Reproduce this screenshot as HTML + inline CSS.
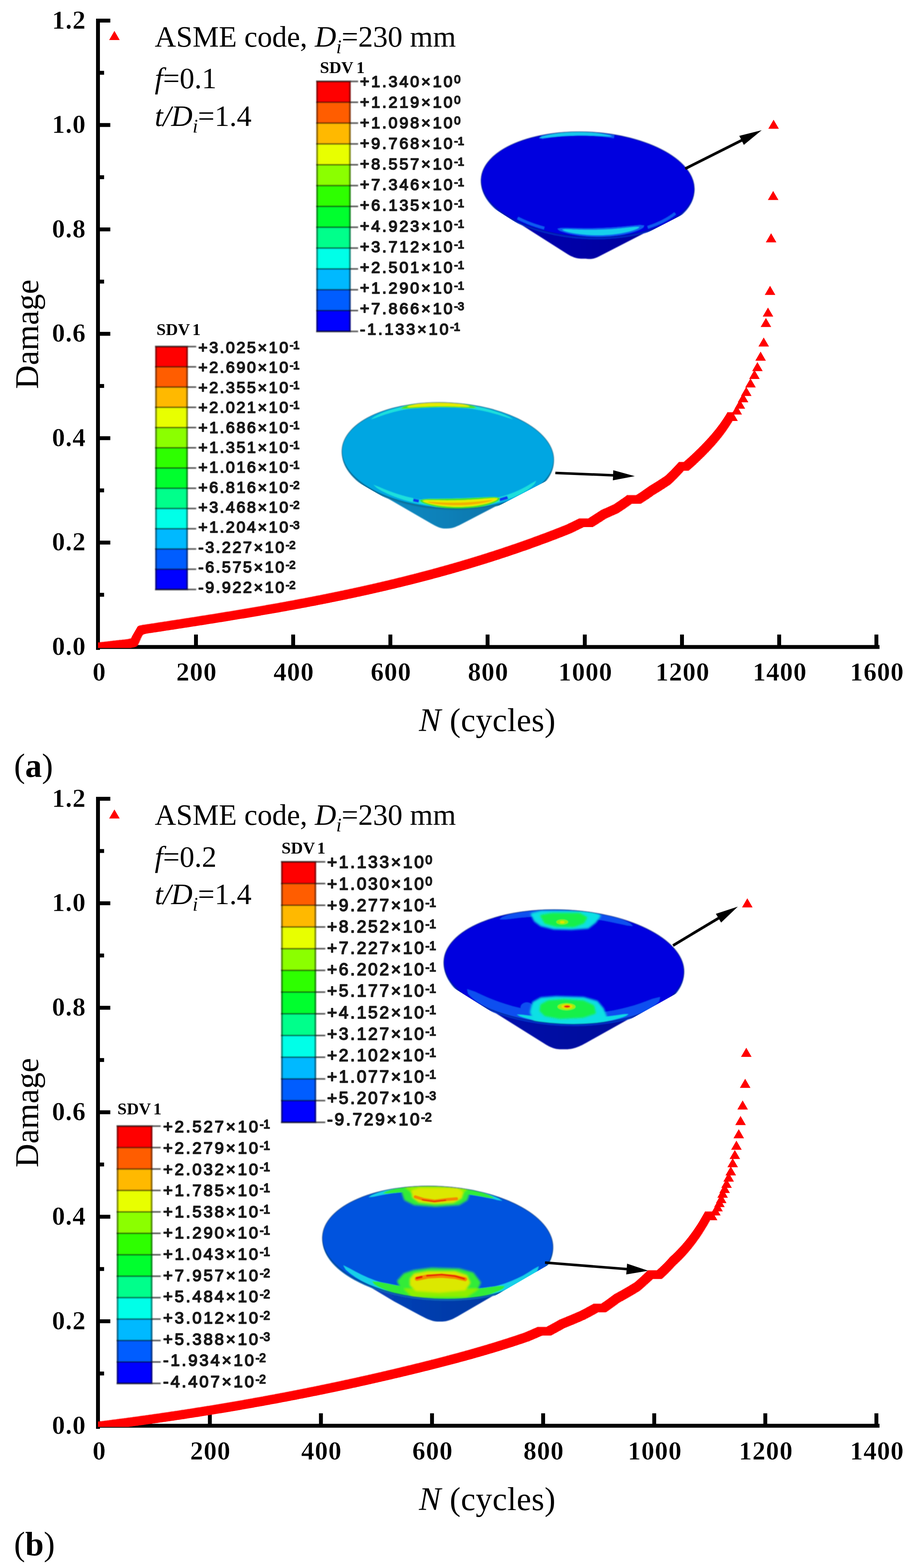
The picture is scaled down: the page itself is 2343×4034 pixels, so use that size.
<!DOCTYPE html>
<html lang="en"><head><meta charset="utf-8"><title>Damage evolution vs. cycles</title>
<style>
html,body{margin:0;padding:0;background:#fff}
body{width:2343px;height:4034px;overflow:hidden}
svg{display:block}
text{white-space:pre}
</style></head><body>
<svg width="2343" height="4034" viewBox="0 0 2343 4034" role="img" aria-label="Damage versus number of cycles for f=0.1 and f=0.2">
<defs>
<filter id="soft" x="-5%" y="-5%" width="110%" height="110%"><feGaussianBlur stdDeviation="1.1"/></filter>
<filter id="soft2" x="-5%" y="-20%" width="110%" height="140%"><feGaussianBlur stdDeviation="0.7"/></filter>
<filter id="b2" x="-20%" y="-20%" width="140%" height="140%"><feGaussianBlur stdDeviation="2.8"/></filter>

<linearGradient id="gA1" x1="0" x2="1" y1="0" y2="0"><stop offset="0" stop-color="#0808b4"/><stop offset="0.55" stop-color="#0404a4"/><stop offset="1" stop-color="#060698"/></linearGradient>
<linearGradient id="gA2" x1="0" x2="1" y1="0" y2="0"><stop offset="0" stop-color="#0a90c8"/><stop offset="0.5" stop-color="#0a80b8"/><stop offset="1" stop-color="#08689c"/></linearGradient>
<linearGradient id="gB1" x1="0" x2="1" y1="0" y2="0"><stop offset="0" stop-color="#0410b4"/><stop offset="0.55" stop-color="#0208a0"/><stop offset="1" stop-color="#040a98"/></linearGradient>
<linearGradient id="gB2" x1="0" x2="1" y1="0" y2="0"><stop offset="0" stop-color="#0848c4"/><stop offset="0.5" stop-color="#063cac"/><stop offset="1" stop-color="#06369c"/></linearGradient>
<clipPath id="clipA"><rect x="252" y="0" width="2100" height="1667"/></clipPath>
<clipPath id="clipB"><rect x="252" y="2000" width="2100" height="1671"/></clipPath>
</defs>
<rect width="2343" height="4034" fill="#fff"/>

<g fill="#000"><rect x="247" y="48.0" width="10" height="1624.0"/><rect x="247" y="1659.5" width="2015" height="10"/><rect x="256" y="1525.2" width="11.7" height="10"/><rect x="256" y="1390.9" width="27.7" height="10"/><rect x="256" y="1256.6" width="11.7" height="10"/><rect x="256" y="1122.3" width="27.7" height="10"/><rect x="256" y="988.0" width="11.7" height="10"/><rect x="256" y="853.8" width="27.7" height="10"/><rect x="256" y="719.5" width="11.7" height="10"/><rect x="256" y="585.2" width="27.7" height="10"/><rect x="256" y="450.9" width="11.7" height="10"/><rect x="256" y="316.6" width="27.7" height="10"/><rect x="256" y="182.3" width="11.7" height="10"/><rect x="256" y="48.0" width="27.7" height="10"/><rect x="499.0" y="1632.5" width="10" height="30"/><rect x="749.0" y="1632.5" width="10" height="30"/><rect x="999.0" y="1632.5" width="10" height="30"/><rect x="1249.0" y="1632.5" width="10" height="30"/><rect x="1499.0" y="1632.5" width="10" height="30"/><rect x="1749.0" y="1632.5" width="10" height="30"/><rect x="1999.0" y="1632.5" width="10" height="30"/><rect x="2249.0" y="1632.5" width="10" height="30"/></g>
<g font-family='"Liberation Serif","DejaVu Serif",serif' font-weight="700" font-size="67.5" letter-spacing="1.1" fill="#000" stroke="#fff" stroke-width="0.7"><text x="221.2" y="1685.0" text-anchor="end">0.0</text><text x="221.2" y="1416.4" text-anchor="end">0.2</text><text x="221.2" y="1147.8" text-anchor="end">0.4</text><text x="221.2" y="879.2" text-anchor="end">0.6</text><text x="221.2" y="610.7" text-anchor="end">0.8</text><text x="221.2" y="342.1" text-anchor="end">1.0</text><text x="221.2" y="73.5" text-anchor="end">1.2</text><text x="255.5" y="1751.0" text-anchor="middle">0</text><text x="505.5" y="1751.0" text-anchor="middle">200</text><text x="755.5" y="1751.0" text-anchor="middle">400</text><text x="1005.5" y="1751.0" text-anchor="middle">600</text><text x="1255.5" y="1751.0" text-anchor="middle">800</text><text x="1505.5" y="1751.0" text-anchor="middle">1000</text><text x="1755.5" y="1751.0" text-anchor="middle">1200</text><text x="2005.5" y="1751.0" text-anchor="middle">1400</text><text x="2255.5" y="1751.0" text-anchor="middle">1600</text></g>
<text transform="translate(97.5 859.8) rotate(-90)" text-anchor="middle" font-family='"Liberation Serif","DejaVu Serif",serif' font-size="84.6" fill="#000">Damage</text>
<text x="1253.5" y="1881.0" text-anchor="middle" font-family='"Liberation Serif","DejaVu Serif",serif' font-size="84.5" letter-spacing="0.7" fill="#000"><tspan font-style="italic">N</tspan> (cycles)</text>
<path d="M294.3 79.6l13.6 23.4h-27.2z" fill="#f00"/>
<g font-family='"Liberation Serif","DejaVu Serif",serif' font-size="76" fill="#000"><text x="398" y="119.5">ASME code, <tspan font-style="italic">D</tspan><tspan font-style="italic" font-size="50" dy="17">i</tspan><tspan dy="-17">=230 mm</tspan></text><text x="398" y="227.0"><tspan font-style="italic">f</tspan>=0.1</text><text x="398" y="323.5"><tspan font-style="italic">t/D</tspan><tspan font-style="italic" font-size="50" dy="17">i</tspan><tspan dy="-17">=1.4</tspan></text></g>
<g filter="url(#soft)"><rect x="814.0" y="209.50" width="87.5" height="53.89" fill="#ff0000"/><rect x="814.0" y="263.09" width="87.5" height="53.89" fill="#ff5d00"/><rect x="814.0" y="316.68" width="87.5" height="53.89" fill="#ffb900"/><rect x="814.0" y="370.27" width="87.5" height="53.89" fill="#e8ff00"/><rect x="814.0" y="423.87" width="87.5" height="53.89" fill="#8bff00"/><rect x="814.0" y="477.46" width="87.5" height="53.89" fill="#2eff00"/><rect x="814.0" y="531.05" width="87.5" height="53.89" fill="#00ff2e"/><rect x="814.0" y="584.64" width="87.5" height="53.89" fill="#00ff8b"/><rect x="814.0" y="638.23" width="87.5" height="53.89" fill="#00ffe8"/><rect x="814.0" y="691.83" width="87.5" height="53.89" fill="#00b9ff"/><rect x="814.0" y="745.42" width="87.5" height="53.89" fill="#005dff"/><rect x="814.0" y="799.01" width="87.5" height="53.89" fill="#0000ff"/><rect x="815.5" y="209.5" width="84.5" height="643.1" fill="none" stroke="#000" stroke-opacity="0.42" stroke-width="5"/><rect x="813.0" y="207.50" width="89.5" height="4" fill="#000" fill-opacity="0.5"/><rect x="901.5" y="207.50" width="19.5" height="4" fill="#333" fill-opacity="0.8"/><rect x="813.0" y="261.09" width="89.5" height="4" fill="#000" fill-opacity="0.5"/><rect x="901.5" y="261.09" width="19.5" height="4" fill="#333" fill-opacity="0.8"/><rect x="813.0" y="314.68" width="89.5" height="4" fill="#000" fill-opacity="0.5"/><rect x="901.5" y="314.68" width="19.5" height="4" fill="#333" fill-opacity="0.8"/><rect x="813.0" y="368.27" width="89.5" height="4" fill="#000" fill-opacity="0.5"/><rect x="901.5" y="368.27" width="19.5" height="4" fill="#333" fill-opacity="0.8"/><rect x="813.0" y="421.87" width="89.5" height="4" fill="#000" fill-opacity="0.5"/><rect x="901.5" y="421.87" width="19.5" height="4" fill="#333" fill-opacity="0.8"/><rect x="813.0" y="475.46" width="89.5" height="4" fill="#000" fill-opacity="0.5"/><rect x="901.5" y="475.46" width="19.5" height="4" fill="#333" fill-opacity="0.8"/><rect x="813.0" y="529.05" width="89.5" height="4" fill="#000" fill-opacity="0.5"/><rect x="901.5" y="529.05" width="19.5" height="4" fill="#333" fill-opacity="0.8"/><rect x="813.0" y="582.64" width="89.5" height="4" fill="#000" fill-opacity="0.5"/><rect x="901.5" y="582.64" width="19.5" height="4" fill="#333" fill-opacity="0.8"/><rect x="813.0" y="636.23" width="89.5" height="4" fill="#000" fill-opacity="0.5"/><rect x="901.5" y="636.23" width="19.5" height="4" fill="#333" fill-opacity="0.8"/><rect x="813.0" y="689.83" width="89.5" height="4" fill="#000" fill-opacity="0.5"/><rect x="901.5" y="689.83" width="19.5" height="4" fill="#333" fill-opacity="0.8"/><rect x="813.0" y="743.42" width="89.5" height="4" fill="#000" fill-opacity="0.5"/><rect x="901.5" y="743.42" width="19.5" height="4" fill="#333" fill-opacity="0.8"/><rect x="813.0" y="797.01" width="89.5" height="4" fill="#000" fill-opacity="0.5"/><rect x="901.5" y="797.01" width="19.5" height="4" fill="#333" fill-opacity="0.8"/><rect x="813.0" y="850.60" width="89.5" height="4" fill="#000" fill-opacity="0.5"/><rect x="901.5" y="850.60" width="19.5" height="4" fill="#333" fill-opacity="0.8"/></g>
<g font-family='"Liberation Sans","DejaVu Sans",sans-serif' font-size="41.2" letter-spacing="5.02" fill="#1a1a1a" stroke="#1a1a1a" stroke-width="2.5" stroke-linejoin="round" filter="url(#soft2)"><text x="925.8" y="223.6">+1.340<tspan dx="0.3">×</tspan><tspan dx="0.5">10</tspan><tspan font-size="29.7" letter-spacing="-0.6" dy="-9.8" dx="-0.8">0</tspan></text><text x="925.8" y="276.8">+1.219<tspan dx="0.3">×</tspan><tspan dx="0.5">10</tspan><tspan font-size="29.7" letter-spacing="-0.6" dy="-9.8" dx="-0.8">0</tspan></text><text x="925.8" y="329.9">+1.098<tspan dx="0.3">×</tspan><tspan dx="0.5">10</tspan><tspan font-size="29.7" letter-spacing="-0.6" dy="-9.8" dx="-0.8">0</tspan></text><text x="925.8" y="383.0">+9.768<tspan dx="0.3">×</tspan><tspan dx="0.5">10</tspan><tspan font-size="29.7" letter-spacing="-0.6" dy="-9.8" dx="-0.8">-1</tspan></text><text x="925.8" y="436.1">+8.557<tspan dx="0.3">×</tspan><tspan dx="0.5">10</tspan><tspan font-size="29.7" letter-spacing="-0.6" dy="-9.8" dx="-0.8">-1</tspan></text><text x="925.8" y="489.2">+7.346<tspan dx="0.3">×</tspan><tspan dx="0.5">10</tspan><tspan font-size="29.7" letter-spacing="-0.6" dy="-9.8" dx="-0.8">-1</tspan></text><text x="925.8" y="542.4">+6.135<tspan dx="0.3">×</tspan><tspan dx="0.5">10</tspan><tspan font-size="29.7" letter-spacing="-0.6" dy="-9.8" dx="-0.8">-1</tspan></text><text x="925.8" y="595.5">+4.923<tspan dx="0.3">×</tspan><tspan dx="0.5">10</tspan><tspan font-size="29.7" letter-spacing="-0.6" dy="-9.8" dx="-0.8">-1</tspan></text><text x="925.8" y="648.6">+3.712<tspan dx="0.3">×</tspan><tspan dx="0.5">10</tspan><tspan font-size="29.7" letter-spacing="-0.6" dy="-9.8" dx="-0.8">-1</tspan></text><text x="925.8" y="701.7">+2.501<tspan dx="0.3">×</tspan><tspan dx="0.5">10</tspan><tspan font-size="29.7" letter-spacing="-0.6" dy="-9.8" dx="-0.8">-1</tspan></text><text x="925.8" y="754.8">+1.290<tspan dx="0.3">×</tspan><tspan dx="0.5">10</tspan><tspan font-size="29.7" letter-spacing="-0.6" dy="-9.8" dx="-0.8">-1</tspan></text><text x="925.8" y="807.9">+7.866<tspan dx="0.3">×</tspan><tspan dx="0.5">10</tspan><tspan font-size="29.7" letter-spacing="-0.6" dy="-9.8" dx="-0.8">-3</tspan></text><text x="925.8" y="861.1">-1.133<tspan dx="0.3">×</tspan><tspan dx="0.5">10</tspan><tspan font-size="29.7" letter-spacing="-0.6" dy="-9.8" dx="-0.8">-1</tspan></text></g>
<text y="187.6" font-family='"Liberation Serif","DejaVu Serif",serif' font-weight="700" font-size="43" fill="#000"><tspan x="822.8">SDV</tspan><tspan x="916.5">1</tspan></text>
<g filter="url(#soft)"><rect x="399.7" y="891.70" width="83.0" height="52.37" fill="#ff0000"/><rect x="399.7" y="943.77" width="83.0" height="52.37" fill="#ff5d00"/><rect x="399.7" y="995.83" width="83.0" height="52.37" fill="#ffb900"/><rect x="399.7" y="1047.90" width="83.0" height="52.37" fill="#e8ff00"/><rect x="399.7" y="1099.97" width="83.0" height="52.37" fill="#8bff00"/><rect x="399.7" y="1152.03" width="83.0" height="52.37" fill="#2eff00"/><rect x="399.7" y="1204.10" width="83.0" height="52.37" fill="#00ff2e"/><rect x="399.7" y="1256.17" width="83.0" height="52.37" fill="#00ff8b"/><rect x="399.7" y="1308.23" width="83.0" height="52.37" fill="#00ffe8"/><rect x="399.7" y="1360.30" width="83.0" height="52.37" fill="#00b9ff"/><rect x="399.7" y="1412.37" width="83.0" height="52.37" fill="#005dff"/><rect x="399.7" y="1464.43" width="83.0" height="52.37" fill="#0000ff"/><rect x="401.2" y="891.7" width="80.0" height="624.8" fill="none" stroke="#000" stroke-opacity="0.42" stroke-width="5"/><rect x="398.7" y="889.70" width="85.0" height="4" fill="#000" fill-opacity="0.5"/><rect x="482.7" y="889.70" width="21.9" height="4" fill="#333" fill-opacity="0.8"/><rect x="398.7" y="941.77" width="85.0" height="4" fill="#000" fill-opacity="0.5"/><rect x="482.7" y="941.77" width="21.9" height="4" fill="#333" fill-opacity="0.8"/><rect x="398.7" y="993.83" width="85.0" height="4" fill="#000" fill-opacity="0.5"/><rect x="482.7" y="993.83" width="21.9" height="4" fill="#333" fill-opacity="0.8"/><rect x="398.7" y="1045.90" width="85.0" height="4" fill="#000" fill-opacity="0.5"/><rect x="482.7" y="1045.90" width="21.9" height="4" fill="#333" fill-opacity="0.8"/><rect x="398.7" y="1097.97" width="85.0" height="4" fill="#000" fill-opacity="0.5"/><rect x="482.7" y="1097.97" width="21.9" height="4" fill="#333" fill-opacity="0.8"/><rect x="398.7" y="1150.03" width="85.0" height="4" fill="#000" fill-opacity="0.5"/><rect x="482.7" y="1150.03" width="21.9" height="4" fill="#333" fill-opacity="0.8"/><rect x="398.7" y="1202.10" width="85.0" height="4" fill="#000" fill-opacity="0.5"/><rect x="482.7" y="1202.10" width="21.9" height="4" fill="#333" fill-opacity="0.8"/><rect x="398.7" y="1254.17" width="85.0" height="4" fill="#000" fill-opacity="0.5"/><rect x="482.7" y="1254.17" width="21.9" height="4" fill="#333" fill-opacity="0.8"/><rect x="398.7" y="1306.23" width="85.0" height="4" fill="#000" fill-opacity="0.5"/><rect x="482.7" y="1306.23" width="21.9" height="4" fill="#333" fill-opacity="0.8"/><rect x="398.7" y="1358.30" width="85.0" height="4" fill="#000" fill-opacity="0.5"/><rect x="482.7" y="1358.30" width="21.9" height="4" fill="#333" fill-opacity="0.8"/><rect x="398.7" y="1410.37" width="85.0" height="4" fill="#000" fill-opacity="0.5"/><rect x="482.7" y="1410.37" width="21.9" height="4" fill="#333" fill-opacity="0.8"/><rect x="398.7" y="1462.43" width="85.0" height="4" fill="#000" fill-opacity="0.5"/><rect x="482.7" y="1462.43" width="21.9" height="4" fill="#333" fill-opacity="0.8"/><rect x="398.7" y="1514.50" width="85.0" height="4" fill="#000" fill-opacity="0.5"/><rect x="482.7" y="1514.50" width="21.9" height="4" fill="#333" fill-opacity="0.8"/></g>
<g font-family='"Liberation Sans","DejaVu Sans",sans-serif' font-size="40.9" letter-spacing="4.39" fill="#1a1a1a" stroke="#1a1a1a" stroke-width="2.5" stroke-linejoin="round" filter="url(#soft2)"><text x="509.9" y="908.0">+3.025<tspan dx="0.2">×</tspan><tspan dx="0.4">10</tspan><tspan font-size="29.5" letter-spacing="-0.6" dy="-9.8" dx="-0.7">-1</tspan></text><text x="509.9" y="959.3">+2.690<tspan dx="0.2">×</tspan><tspan dx="0.4">10</tspan><tspan font-size="29.5" letter-spacing="-0.6" dy="-9.8" dx="-0.7">-1</tspan></text><text x="509.9" y="1010.7">+2.355<tspan dx="0.2">×</tspan><tspan dx="0.4">10</tspan><tspan font-size="29.5" letter-spacing="-0.6" dy="-9.8" dx="-0.7">-1</tspan></text><text x="509.9" y="1062.1">+2.021<tspan dx="0.2">×</tspan><tspan dx="0.4">10</tspan><tspan font-size="29.5" letter-spacing="-0.6" dy="-9.8" dx="-0.7">-1</tspan></text><text x="509.9" y="1113.5">+1.686<tspan dx="0.2">×</tspan><tspan dx="0.4">10</tspan><tspan font-size="29.5" letter-spacing="-0.6" dy="-9.8" dx="-0.7">-1</tspan></text><text x="509.9" y="1164.8">+1.351<tspan dx="0.2">×</tspan><tspan dx="0.4">10</tspan><tspan font-size="29.5" letter-spacing="-0.6" dy="-9.8" dx="-0.7">-1</tspan></text><text x="509.9" y="1216.2">+1.016<tspan dx="0.2">×</tspan><tspan dx="0.4">10</tspan><tspan font-size="29.5" letter-spacing="-0.6" dy="-9.8" dx="-0.7">-1</tspan></text><text x="509.9" y="1267.6">+6.816<tspan dx="0.2">×</tspan><tspan dx="0.4">10</tspan><tspan font-size="29.5" letter-spacing="-0.6" dy="-9.8" dx="-0.7">-2</tspan></text><text x="509.9" y="1319.0">+3.468<tspan dx="0.2">×</tspan><tspan dx="0.4">10</tspan><tspan font-size="29.5" letter-spacing="-0.6" dy="-9.8" dx="-0.7">-2</tspan></text><text x="509.9" y="1370.3">+1.204<tspan dx="0.2">×</tspan><tspan dx="0.4">10</tspan><tspan font-size="29.5" letter-spacing="-0.6" dy="-9.8" dx="-0.7">-3</tspan></text><text x="509.9" y="1421.7">-3.227<tspan dx="0.2">×</tspan><tspan dx="0.4">10</tspan><tspan font-size="29.5" letter-spacing="-0.6" dy="-9.8" dx="-0.7">-2</tspan></text><text x="509.9" y="1473.1">-6.575<tspan dx="0.2">×</tspan><tspan dx="0.4">10</tspan><tspan font-size="29.5" letter-spacing="-0.6" dy="-9.8" dx="-0.7">-2</tspan></text><text x="509.9" y="1524.5">-9.922<tspan dx="0.2">×</tspan><tspan dx="0.4">10</tspan><tspan font-size="29.5" letter-spacing="-0.6" dy="-9.8" dx="-0.7">-2</tspan></text></g>
<text y="861.5" font-family='"Liberation Serif","DejaVu Serif",serif' font-weight="700" font-size="43" fill="#000"><tspan x="402.5">SDV</tspan><tspan x="494.5">1</tspan></text>
<clipPath id="A1s"><polygon points="1091.5,155.0 1931.5,155.0 1931.5,461.7 1540.0,663.0 1528.0,673.5 1478.0,673.5 1457.5,655.5 1091.5,422.8"/></clipPath><g clip-path="url(#A1s)"><g filter="url(#soft)"><path d="M1241.9 489.1 L1254.7 512.4 L1290.0 546.0 L1457.5 652.5 C1478.6 665.9 1489.2 665.5 1503.0 665.5 C1514.2 665.5 1521.9 669.3 1540.0 660.0 L1730.0 562.3 L1763.0 539.0 L1778.2 517.2 Z" fill="url(#gA1)"/><g transform="translate(1511.5 475) scale(1.0 1.0)"><g transform="translate(0 4.5)"><ellipse rx="274.5" ry="135.5" transform="rotate(3.0)" fill="#0428c8"/></g><ellipse rx="274.5" ry="135.5" transform="rotate(3.0)" fill="#0000df"/></g><clipPath id="A1c"><ellipse rx="274.5" ry="135.5" transform="translate(1511.5 475) scale(1.0 1.0) rotate(3.0)"/></clipPath><g clip-path="url(#A1c)"><path d="M1392.7 353.3 L1398.9 352.1 L1405.1 350.9 L1411.4 349.9 L1417.8 348.9 L1424.2 348.0 L1430.7 347.2 L1437.3 346.4 L1443.9 345.8 L1450.5 345.2 L1457.2 344.7 L1463.9 344.4 L1470.7 344.1 L1477.5 343.8 L1484.3 343.7 L1491.1 343.7 L1497.9 343.7 L1504.8 343.9 L1511.6 344.1 L1518.5 344.4 L1525.3 344.8 L1532.2 345.3 L1539.0 345.9 L1545.8 346.6 L1552.6 347.3 L1559.3 348.2 L1566.0 349.1 L1572.7 350.1 L1579.4 351.2" fill="none" stroke="#0c58f0" stroke-width="9" stroke-linecap="butt" stroke-opacity="1"/><path d="M1386.3 355.2 L1391.0 352.4 L1396.8 350.6 L1402.8 349.0 L1409.0 347.5 L1415.4 346.2 L1421.9 344.9 L1428.5 343.9 L1435.2 342.9 L1442.0 342.1 L1448.9 341.4 L1455.8 340.8 L1462.8 340.3 L1469.8 340.0 L1476.9 339.7 L1484.1 339.6 L1491.2 339.6 L1498.4 339.8 L1505.5 340.0 L1512.7 340.4 L1519.8 340.9 L1526.9 341.6 L1534.0 342.3 L1541.0 343.2 L1548.0 344.2 L1554.9 345.4 L1561.6 346.7 L1568.3 348.3 L1574.4 350.8 L1574.4 350.8 L1567.0 351.2 L1560.0 350.8 L1553.2 350.4 L1546.3 350.0 L1539.6 349.7 L1532.8 349.4 L1526.0 349.1 L1519.3 348.9 L1512.6 348.7 L1505.9 348.6 L1499.2 348.6 L1492.5 348.6 L1485.9 348.6 L1479.2 348.8 L1472.6 348.9 L1466.0 349.2 L1459.4 349.5 L1452.8 349.8 L1446.3 350.3 L1439.7 350.7 L1433.2 351.3 L1426.6 351.9 L1420.1 352.5 L1413.6 353.2 L1407.1 353.9 L1400.5 354.6 L1393.8 355.2 L1386.3 355.2Z" fill="#16c8ec"/><path d="M1331.5 561.0 L1333.6 562.1 L1335.8 563.2 L1338.0 564.3 L1340.2 565.3 L1342.5 566.4 L1344.7 567.4 L1347.0 568.4 L1349.4 569.4 L1351.7 570.4 L1354.0 571.4 L1356.4 572.4 L1358.8 573.4 L1361.2 574.3 L1363.6 575.2 L1366.1 576.2 L1368.6 577.1 L1371.1 578.0 L1373.6 578.8 L1376.1 579.7 L1378.6 580.6 L1381.2 581.4 L1383.8 582.2 L1386.4 583.1 L1389.0 583.9 L1391.6 584.6 L1394.2 585.4 L1396.9 586.2 L1399.6 586.9" fill="none" stroke="#0c5cf0" stroke-width="7" stroke-linecap="butt" stroke-opacity="1"/><path d="M1666.0 584.9 L1669.1 583.9 L1672.1 582.8 L1675.0 581.8 L1678.0 580.7 L1680.9 579.6 L1683.7 578.5 L1686.5 577.4 L1689.3 576.2 L1692.1 575.0 L1694.8 573.8 L1697.4 572.6 L1700.1 571.4 L1702.7 570.1 L1705.2 568.8 L1707.7 567.5 L1710.2 566.2 L1712.6 564.9 L1715.0 563.5 L1717.4 562.1 L1719.7 560.7 L1721.9 559.3 L1724.1 557.9 L1726.3 556.4 L1728.4 555.0 L1730.5 553.5 L1732.5 552.0 L1734.5 550.5 L1736.4 548.9" fill="none" stroke="#0c5cf0" stroke-width="7" stroke-linecap="butt" stroke-opacity="1"/><path d="M1433.5 588.4 L1439.4 593.5 L1447.0 596.3 L1455.0 598.8 L1463.3 600.9 L1471.8 602.7 L1480.5 604.3 L1489.3 605.7 L1498.2 606.8 L1507.3 607.7 L1516.3 608.4 L1525.5 608.8 L1534.6 609.1 L1543.7 609.1 L1552.7 608.8 L1561.7 608.4 L1570.6 607.7 L1579.4 606.8 L1588.0 605.7 L1596.5 604.4 L1604.8 602.9 L1612.8 601.1 L1620.6 599.2 L1628.2 597.0 L1635.4 594.6 L1642.2 591.9 L1648.5 588.9 L1654.2 585.6 L1656.9 580.2 L1656.9 580.2 L1645.8 579.1 L1637.4 579.7 L1629.4 580.4 L1621.6 581.2 L1613.8 582.0 L1606.2 582.7 L1598.6 583.4 L1591.1 584.1 L1583.5 584.7 L1576.0 585.2 L1568.5 585.7 L1561.0 586.1 L1553.5 586.5 L1545.9 586.8 L1538.4 587.0 L1530.8 587.2 L1523.2 587.4 L1515.6 587.4 L1507.9 587.5 L1500.2 587.4 L1492.4 587.3 L1484.6 587.2 L1476.6 587.0 L1468.6 586.8 L1460.5 586.6 L1452.2 586.5 L1443.6 586.5 L1433.5 588.4Z" fill="#0c60f0"/><path d="M1445.2 590.7 L1451.2 594.1 L1458.2 596.2 L1465.4 597.9 L1472.8 599.4 L1480.3 600.7 L1487.9 601.8 L1495.6 602.8 L1503.4 603.6 L1511.2 604.2 L1519.0 604.7 L1526.9 604.9 L1534.7 605.1 L1542.5 605.1 L1550.3 604.9 L1558.1 604.5 L1565.7 604.0 L1573.3 603.4 L1580.8 602.5 L1588.2 601.5 L1595.5 600.4 L1602.6 599.1 L1609.6 597.6 L1616.4 596.0 L1623.0 594.2 L1629.3 592.3 L1635.4 590.1 L1641.0 587.6 L1644.9 583.8 L1644.9 583.8 L1636.2 583.4 L1628.9 584.0 L1621.9 584.8 L1614.9 585.6 L1608.0 586.3 L1601.1 587.1 L1594.3 587.7 L1587.4 588.3 L1580.6 588.9 L1573.7 589.4 L1566.8 589.9 L1559.9 590.2 L1553.0 590.6 L1546.1 590.8 L1539.2 591.1 L1532.2 591.2 L1525.3 591.3 L1518.3 591.3 L1511.2 591.3 L1504.2 591.2 L1497.1 591.1 L1490.0 590.9 L1482.8 590.6 L1475.6 590.4 L1468.3 590.1 L1461.0 589.8 L1453.5 589.6 L1445.2 590.7Z" fill="#14d0ec"/></g><g transform="translate(1511.5 475) scale(1.0 1.0)"><ellipse rx="274.5" ry="135.5" transform="rotate(3.0)" fill="none" stroke="#001a70" stroke-opacity="0.6" stroke-width="2"/></g></g></g><clipPath id="A2s"><polygon points="731.8,852.0 1571.8,852.0 1571.8,1150.6 1187.6,1351.1 1173.0,1367.8 1123.0,1367.8 1110.0,1350.4 731.8,1131.6"/></clipPath><g clip-path="url(#A2s)"><g filter="url(#soft)"><path d="M884.1 1186.1 L896.8 1209.5 L916.4 1235.4 L1110.0 1347.4 C1128.1 1357.9 1136.5 1359.8 1148.0 1359.8 C1160.0 1359.8 1168.3 1358.2 1187.6 1348.1 L1390.5 1242.2 L1401.5 1236.3 L1416.6 1214.4 Z" fill="url(#gA2)"/><g transform="translate(1151.8 1172) scale(0.993 1.004)"><g transform="translate(0 4.5)"><ellipse rx="274.5" ry="135.5" transform="rotate(3.0)" fill="#0a78a8"/></g><ellipse rx="274.5" ry="135.5" transform="rotate(3.0)" fill="#05a6e2"/></g><clipPath id="A2c"><ellipse rx="274.5" ry="135.5" transform="translate(1151.8 1172) scale(0.993 1.004) rotate(3.0)"/></clipPath><g clip-path="url(#A2c)"><path d="M953.4 1079.3 L961.0 1073.2 L970.6 1067.9 L981.1 1063.1 L992.3 1058.6 L1004.2 1054.6 L1016.6 1050.9 L1029.5 1047.6 L1042.9 1044.7 L1056.7 1042.3 L1070.8 1040.3 L1085.2 1038.7 L1099.9 1037.5 L1114.7 1036.8 L1129.7 1036.6 L1144.8 1036.8 L1159.8 1037.5 L1174.9 1038.6 L1189.8 1040.1 L1204.6 1042.1 L1219.2 1044.5 L1233.5 1047.4 L1247.5 1050.6 L1261.1 1054.3 L1274.2 1058.4 L1286.9 1062.8 L1299.0 1067.6 L1310.3 1072.8 L1319.9 1079.0 L1319.9 1079.0 L1306.7 1075.1 L1294.2 1071.0 L1281.6 1067.0 L1268.8 1063.4 L1255.7 1060.1 L1242.4 1057.1 L1228.9 1054.4 L1215.2 1052.1 L1201.3 1050.1 L1187.4 1048.5 L1173.4 1047.2 L1159.3 1046.3 L1145.2 1045.8 L1131.2 1045.6 L1117.2 1045.8 L1103.3 1046.4 L1089.5 1047.3 L1075.9 1048.6 L1062.5 1050.3 L1049.3 1052.3 L1036.4 1054.6 L1023.8 1057.3 L1011.4 1060.3 L999.4 1063.7 L987.8 1067.3 L976.4 1071.3 L965.4 1075.4 L953.4 1079.3Z" fill="#1ce0dc"/><path d="M1031.1 1050.9 L1035.3 1047.2 L1041.1 1044.9 L1047.2 1043.0 L1053.6 1041.3 L1060.2 1039.8 L1067.0 1038.4 L1073.9 1037.2 L1081.0 1036.2 L1088.2 1035.3 L1095.4 1034.5 L1102.8 1033.9 L1110.2 1033.5 L1117.7 1033.2 L1125.2 1033.1 L1132.7 1033.1 L1140.3 1033.2 L1147.9 1033.6 L1155.4 1034.0 L1162.9 1034.6 L1170.4 1035.4 L1177.9 1036.3 L1185.2 1037.4 L1192.5 1038.7 L1199.7 1040.1 L1206.7 1041.7 L1213.6 1043.5 L1220.2 1045.7 L1225.8 1049.3 L1225.8 1049.3 L1217.6 1050.4 L1210.3 1050.3 L1203.2 1050.0 L1196.2 1049.7 L1189.2 1049.4 L1182.3 1049.1 L1175.5 1048.8 L1168.6 1048.6 L1161.8 1048.4 L1155.0 1048.3 L1148.3 1048.2 L1141.5 1048.1 L1134.8 1048.1 L1128.1 1048.1 L1121.4 1048.2 L1114.7 1048.3 L1107.9 1048.5 L1101.2 1048.7 L1094.5 1049.0 L1087.8 1049.3 L1081.1 1049.6 L1074.4 1050.0 L1067.6 1050.4 L1060.8 1050.8 L1053.9 1051.2 L1046.9 1051.6 L1039.7 1051.9 L1031.1 1050.9Z" fill="#48e428"/><path d="M1046.2 1047.3 L1050.4 1044.7 L1055.5 1043.2 L1060.8 1041.9 L1066.3 1040.7 L1071.9 1039.6 L1077.6 1038.7 L1083.3 1037.9 L1089.2 1037.2 L1095.1 1036.6 L1101.0 1036.0 L1107.0 1035.6 L1113.1 1035.3 L1119.2 1035.1 L1125.3 1035.0 L1131.4 1035.0 L1137.6 1035.1 L1143.7 1035.3 L1149.9 1035.6 L1156.0 1036.0 L1162.2 1036.5 L1168.3 1037.1 L1174.3 1037.9 L1180.3 1038.7 L1186.3 1039.6 L1192.2 1040.7 L1198.0 1041.9 L1203.7 1043.4 L1208.8 1045.9 L1208.8 1045.9 L1202.4 1046.6 L1196.4 1046.5 L1190.5 1046.3 L1184.6 1046.1 L1178.8 1045.9 L1173.0 1045.7 L1167.2 1045.5 L1161.5 1045.4 L1155.8 1045.2 L1150.0 1045.1 L1144.3 1045.1 L1138.6 1045.0 L1132.9 1045.0 L1127.3 1045.1 L1121.6 1045.1 L1115.9 1045.2 L1110.2 1045.4 L1104.6 1045.5 L1098.9 1045.7 L1093.2 1045.9 L1087.6 1046.2 L1081.9 1046.5 L1076.2 1046.8 L1070.5 1047.1 L1064.7 1047.4 L1058.9 1047.7 L1053.0 1047.9 L1046.2 1047.3Z" fill="#e4ec00"/><path d="M960.0 1247.0 L969.3 1255.4 L981.4 1262.7 L994.9 1269.5 L1009.4 1275.8 L1024.8 1281.5 L1041.0 1286.7 L1057.8 1291.3 L1075.3 1295.2 L1093.2 1298.5 L1111.5 1301.2 L1130.0 1303.2 L1148.7 1304.4 L1167.4 1305.0 L1186.1 1304.9 L1204.6 1304.1 L1222.8 1302.6 L1240.5 1300.4 L1257.8 1297.5 L1274.5 1294.0 L1290.5 1289.8 L1305.7 1285.0 L1320.0 1279.7 L1333.3 1273.7 L1345.6 1267.3 L1356.7 1260.4 L1366.5 1253.0 L1374.7 1245.2 L1379.6 1236.4 L1379.6 1236.4 L1367.7 1242.9 L1357.1 1249.4 L1345.8 1255.7 L1333.9 1261.5 L1321.2 1266.9 L1307.9 1271.9 L1293.9 1276.4 L1279.4 1280.3 L1264.3 1283.8 L1248.7 1286.7 L1232.7 1289.1 L1216.4 1290.9 L1199.8 1292.2 L1183.0 1292.9 L1166.0 1293.0 L1149.0 1292.6 L1131.9 1291.6 L1115.0 1290.1 L1098.1 1288.0 L1081.4 1285.3 L1065.0 1282.1 L1049.0 1278.4 L1033.3 1274.2 L1018.0 1269.5 L1003.2 1264.3 L988.9 1258.7 L975.0 1252.8 L960.0 1247.0Z" fill="#1ce0dc"/><path d="M1062.7 1286.3 L1063.2 1286.4 L1063.7 1286.5 L1064.3 1286.6 L1064.8 1286.7 L1065.3 1286.8 L1065.8 1287.0 L1066.3 1287.1 L1066.9 1287.2 L1067.4 1287.3 L1067.9 1287.4 L1068.4 1287.5 L1068.9 1287.6 L1069.5 1287.8 L1070.0 1287.9 L1070.5 1288.0 L1071.0 1288.1 L1071.6 1288.2 L1072.1 1288.3 L1072.6 1288.4 L1073.1 1288.5 L1073.7 1288.6 L1074.2 1288.7 L1074.7 1288.8 L1075.2 1288.9 L1075.8 1289.0 L1076.3 1289.2 L1076.8 1289.3 L1077.4 1289.4" fill="none" stroke="#0838f0" stroke-width="8" stroke-linecap="butt" stroke-opacity="1"/><path d="M1284.7 1285.9 L1285.4 1285.7 L1286.2 1285.5 L1287.0 1285.3 L1287.7 1285.1 L1288.5 1284.9 L1289.3 1284.7 L1290.0 1284.5 L1290.8 1284.3 L1291.5 1284.0 L1292.3 1283.8 L1293.0 1283.6 L1293.8 1283.4 L1294.5 1283.2 L1295.3 1282.9 L1296.0 1282.7 L1296.8 1282.5 L1297.5 1282.2 L1298.3 1282.0 L1299.0 1281.8 L1299.7 1281.6 L1300.5 1281.3 L1301.2 1281.1 L1301.9 1280.8 L1302.7 1280.6 L1303.4 1280.4 L1304.1 1280.1 L1304.9 1279.9 L1305.6 1279.6" fill="none" stroke="#0838f0" stroke-width="8" stroke-linecap="butt" stroke-opacity="1"/><path d="M1079.0 1286.8 L1084.0 1292.5 L1090.8 1295.5 L1098.2 1298.1 L1105.8 1300.3 L1113.7 1302.2 L1121.8 1303.9 L1130.0 1305.3 L1138.3 1306.5 L1146.7 1307.5 L1155.2 1308.2 L1163.8 1308.7 L1172.3 1309.0 L1180.8 1309.1 L1189.3 1309.0 L1197.8 1308.6 L1206.1 1308.0 L1214.4 1307.2 L1222.5 1306.2 L1230.4 1305.0 L1238.2 1303.6 L1245.7 1301.9 L1253.1 1300.0 L1260.1 1297.9 L1266.8 1295.6 L1273.1 1293.0 L1279.0 1290.0 L1284.1 1286.6 L1285.9 1280.8 L1285.9 1280.8 L1274.7 1278.5 L1266.5 1278.4 L1258.8 1278.6 L1251.3 1278.9 L1244.1 1279.3 L1236.9 1279.6 L1229.9 1280.0 L1222.9 1280.3 L1216.0 1280.6 L1209.1 1280.9 L1202.3 1281.2 L1195.5 1281.5 L1188.7 1281.7 L1181.9 1281.9 L1175.1 1282.1 L1168.3 1282.3 L1161.5 1282.4 L1154.6 1282.5 L1147.7 1282.6 L1140.7 1282.7 L1133.7 1282.8 L1126.5 1282.9 L1119.3 1282.9 L1112.0 1283.0 L1104.5 1283.1 L1096.8 1283.4 L1088.8 1283.9 L1079.0 1286.8Z" fill="#40e428"/><path d="M1086.1 1288.2 L1091.8 1292.1 L1098.5 1294.3 L1105.4 1296.2 L1112.6 1297.8 L1119.9 1299.2 L1127.3 1300.4 L1134.9 1301.4 L1142.4 1302.3 L1150.1 1303.0 L1157.8 1303.5 L1165.5 1303.9 L1173.1 1304.1 L1180.8 1304.1 L1188.5 1303.9 L1196.1 1303.6 L1203.6 1303.1 L1211.1 1302.5 L1218.4 1301.7 L1225.7 1300.7 L1232.8 1299.6 L1239.8 1298.3 L1246.6 1296.8 L1253.3 1295.2 L1259.7 1293.3 L1265.8 1291.3 L1271.7 1289.1 L1277.0 1286.5 L1280.4 1282.3 L1280.4 1282.3 L1271.4 1281.3 L1264.1 1281.7 L1257.1 1282.2 L1250.3 1282.8 L1243.5 1283.3 L1236.8 1283.9 L1230.2 1284.4 L1223.5 1284.9 L1216.9 1285.3 L1210.2 1285.7 L1203.6 1286.1 L1197.0 1286.4 L1190.4 1286.7 L1183.7 1286.9 L1177.1 1287.1 L1170.4 1287.2 L1163.7 1287.3 L1157.0 1287.3 L1150.3 1287.4 L1143.5 1287.3 L1136.7 1287.2 L1129.9 1287.1 L1123.0 1287.0 L1116.0 1286.8 L1109.0 1286.7 L1101.8 1286.6 L1094.5 1286.6 L1086.1 1288.2Z" fill="#e8ec00"/><path d="M1098.3 1291.1 L1104.0 1293.2 L1110.0 1294.4 L1116.1 1295.5 L1122.3 1296.5 L1128.6 1297.3 L1134.9 1298.0 L1141.2 1298.6 L1147.6 1299.1 L1154.0 1299.5 L1160.4 1299.8 L1166.7 1300.0 L1173.1 1300.1 L1179.5 1300.0 L1185.9 1299.9 L1192.2 1299.7 L1198.5 1299.4 L1204.7 1298.9 L1210.9 1298.4 L1217.1 1297.8 L1223.2 1297.0 L1229.2 1296.2 L1235.1 1295.3 L1240.9 1294.2 L1246.7 1293.1 L1252.3 1291.8 L1257.7 1290.4 L1263.0 1288.8 L1267.5 1286.5 L1267.5 1286.5 L1260.9 1286.6 L1255.0 1287.3 L1249.1 1288.0 L1243.2 1288.7 L1237.3 1289.3 L1231.5 1289.9 L1225.6 1290.5 L1219.7 1291.0 L1213.8 1291.4 L1207.9 1291.8 L1201.9 1292.2 L1196.0 1292.5 L1190.0 1292.7 L1184.0 1292.9 L1178.0 1293.0 L1172.0 1293.1 L1166.0 1293.2 L1159.9 1293.1 L1153.9 1293.1 L1147.8 1292.9 L1141.7 1292.7 L1135.6 1292.5 L1129.5 1292.2 L1123.4 1291.9 L1117.3 1291.6 L1111.1 1291.2 L1104.9 1290.9 L1098.3 1291.1Z" fill="#f4b000"/></g><g transform="translate(1151.8 1172) scale(0.993 1.004)"><ellipse rx="274.5" ry="135.5" transform="rotate(3.0)" fill="none" stroke="#064a66" stroke-opacity="0.6" stroke-width="2"/></g></g></g><clipPath id="B1s"><polygon points="1030.3,2167.6 1870.3,2167.6 1870.3,2482.8 1507.6,2685.9 1472.0,2707.6 1422.0,2707.6 1400.5,2688.2 1030.3,2456.1"/></clipPath><g clip-path="url(#B1s)"><g filter="url(#soft)"><path d="M1146.7 2502.8 L1161.1 2528.1 L1197.6 2558.0 L1400.5 2685.2 C1422.2 2698.8 1432.9 2699.6 1447.0 2699.6 C1465.3 2699.6 1478.5 2699.2 1507.6 2682.9 L1733.0 2556.7 L1733.5 2556.9 L1750.6 2533.3 Z" fill="url(#gB1)"/><g transform="translate(1450.3 2487.6) scale(1.126 1.083)"><g transform="translate(0 4.5)"><ellipse rx="274.5" ry="135.5" transform="rotate(3.0)" fill="#0430c8"/></g><ellipse rx="274.5" ry="135.5" transform="rotate(3.0)" fill="#0000df"/></g><clipPath id="B1c"><ellipse rx="274.5" ry="135.5" transform="translate(1450.3 2487.6) scale(1.126 1.083) rotate(3.0)"/></clipPath><g clip-path="url(#B1c)"><path d="M1284.5 2365.3 L1291.8 2359.3 L1302.0 2355.3 L1313.0 2351.8 L1324.6 2348.7 L1336.7 2345.9 L1349.2 2343.6 L1362.1 2341.6 L1375.3 2339.9 L1388.7 2338.7 L1402.3 2337.7 L1416.1 2337.2 L1430.1 2337.0 L1444.1 2337.1 L1458.1 2337.6 L1472.1 2338.5 L1486.0 2339.8 L1499.9 2341.3 L1513.6 2343.3 L1527.0 2345.5 L1540.3 2348.2 L1553.2 2351.1 L1565.8 2354.4 L1578.0 2358.0 L1589.8 2361.9 L1601.0 2366.1 L1611.6 2370.7 L1621.2 2375.7 L1627.9 2382.4 L1627.9 2382.4 L1613.3 2380.9 L1601.1 2378.3 L1589.1 2375.7 L1577.2 2373.2 L1565.4 2370.8 L1553.5 2368.6 L1541.6 2366.6 L1529.6 2364.7 L1517.6 2363.1 L1505.5 2361.6 L1493.4 2360.3 L1481.3 2359.2 L1469.2 2358.3 L1457.1 2357.6 L1444.9 2357.1 L1432.7 2356.8 L1420.6 2356.7 L1408.4 2356.7 L1396.3 2357.0 L1384.2 2357.5 L1372.1 2358.1 L1360.0 2358.9 L1347.9 2360.0 L1335.9 2361.1 L1323.8 2362.5 L1311.7 2363.9 L1299.2 2365.3 L1284.5 2365.3Z" fill="#0c50f0"/><path d="M1201.4 2544.8 L1203.9 2556.4 L1213.5 2566.6 L1225.7 2576.3 L1239.9 2585.5 L1255.8 2594.2 L1273.3 2602.2 L1292.1 2609.6 L1312.2 2616.2 L1333.3 2622.1 L1355.3 2627.2 L1378.0 2631.3 L1401.3 2634.6 L1424.9 2637.0 L1448.7 2638.4 L1472.6 2638.9 L1496.2 2638.5 L1519.5 2637.1 L1542.3 2634.7 L1564.4 2631.5 L1585.6 2627.3 L1605.8 2622.3 L1624.8 2616.5 L1642.4 2609.8 L1658.5 2602.5 L1672.9 2594.4 L1685.2 2585.7 L1695.1 2576.3 L1697.8 2564.9 L1697.8 2564.9 L1677.6 2569.9 L1662.0 2576.0 L1646.3 2581.7 L1630.3 2586.9 L1613.8 2591.6 L1596.8 2595.8 L1579.4 2599.4 L1561.5 2602.4 L1543.3 2604.9 L1524.8 2606.8 L1506.1 2608.1 L1487.2 2608.8 L1468.1 2608.9 L1449.0 2608.4 L1429.9 2607.3 L1410.9 2605.7 L1392.0 2603.5 L1373.3 2600.7 L1354.9 2597.3 L1336.8 2593.3 L1319.0 2588.9 L1301.7 2583.8 L1284.8 2578.3 L1268.4 2572.2 L1252.5 2565.7 L1237.0 2558.8 L1221.5 2551.5 L1201.4 2544.8Z" fill="#0c50f0"/><ellipse cx="1355" cy="2592" rx="16" ry="13" fill="#0c50f0"/><path d="M1329.2 2610.1 L1337.2 2614.6 L1346.7 2617.7 L1356.7 2620.5 L1366.9 2623.0 L1377.4 2625.3 L1388.1 2627.3 L1399.0 2629.0 L1410.0 2630.5 L1421.1 2631.8 L1432.4 2632.9 L1443.6 2633.7 L1454.9 2634.2 L1466.2 2634.5 L1477.5 2634.6 L1488.8 2634.5 L1499.9 2634.0 L1511.0 2633.4 L1522.0 2632.5 L1532.8 2631.4 L1543.4 2630.0 L1553.8 2628.4 L1564.0 2626.6 L1574.0 2624.5 L1583.7 2622.1 L1593.0 2619.6 L1601.9 2616.7 L1610.2 2613.5 L1616.5 2608.9 L1616.5 2608.9 L1604.9 2609.3 L1594.9 2610.7 L1585.0 2612.2 L1575.1 2613.5 L1565.3 2614.8 L1555.4 2616.0 L1545.4 2617.0 L1535.5 2617.9 L1525.5 2618.7 L1515.4 2619.3 L1505.4 2619.8 L1495.2 2620.2 L1485.1 2620.5 L1474.9 2620.6 L1464.7 2620.5 L1454.5 2620.4 L1444.2 2620.1 L1434.0 2619.7 L1423.7 2619.1 L1413.4 2618.4 L1403.2 2617.6 L1392.9 2616.6 L1382.6 2615.5 L1372.3 2614.4 L1361.9 2613.1 L1351.5 2611.7 L1340.9 2610.4 L1329.2 2610.1Z" fill="#10dce4"/><path d="M1368.0 2352.0 L1392.0 2346.0 L1520.0 2346.0 L1542.0 2356.0 L1530.0 2372.0 L1512.0 2386.0 L1470.0 2389.0 L1425.0 2388.0 L1392.0 2380.0 L1376.0 2368.0Z" fill="#10e0e4" stroke="#10e0e4" stroke-width="6" stroke-linejoin="round" filter="url(#b2)"/><path d="M1392.0 2356.0 L1420.0 2351.0 L1490.0 2351.0 L1508.0 2361.0 L1500.0 2374.0 L1476.0 2383.0 L1430.0 2382.0 L1402.0 2374.0Z" fill="#18f048" stroke="#18f048" stroke-width="5" stroke-linejoin="round" filter="url(#b2)"/><ellipse cx="1446" cy="2372" rx="15" ry="6.5" fill="#90f010"/><ellipse cx="1446" cy="2372.5" rx="6" ry="3" fill="#e8e000"/><path d="M1372.0 2580.0 L1392.0 2569.0 L1430.0 2566.0 L1500.0 2568.0 L1535.0 2578.0 L1550.0 2596.0 L1560.0 2622.0 L1500.0 2636.0 L1420.0 2636.0 L1376.0 2628.0 L1366.0 2604.0Z" fill="#10e0e4" stroke="#10e0e4" stroke-width="6" stroke-linejoin="round" filter="url(#b2)"/><path d="M1392.0 2586.0 L1410.0 2576.0 L1450.0 2573.0 L1500.0 2576.0 L1526.0 2588.0 L1530.0 2606.0 L1500.0 2616.0 L1440.0 2619.0 L1402.0 2612.0 L1390.0 2600.0Z" fill="#18f048" stroke="#18f048" stroke-width="5" stroke-linejoin="round" filter="url(#b2)"/><ellipse cx="1457" cy="2590" rx="23" ry="9" fill="#a0f010"/><ellipse cx="1458" cy="2589.5" rx="14" ry="5.5" fill="#f0d800"/><ellipse cx="1458.5" cy="2589.4" rx="8" ry="3" fill="#e82008"/></g><g transform="translate(1450.3 2487.6) scale(1.126 1.083)"><ellipse rx="274.5" ry="135.5" transform="rotate(3.0)" fill="none" stroke="#001a70" stroke-opacity="0.6" stroke-width="2"/></g></g></g><clipPath id="B2s"><polygon points="705.7,2876.7 1545.7,2876.7 1545.7,3175.6 1177.6,3389.2 1155.0,3408.0 1105.0,3408.0 1080.5,3386.9 705.7,3186.7"/></clipPath><g clip-path="url(#B2s)"><g filter="url(#soft)"><path d="M834.3 3211.7 L848.1 3236.6 L877.6 3264.4 L945.3 3307.3 L1012.9 3347.8 L1080.5 3383.9 C1104.5 3396.7 1115.0 3400.0 1130.0 3400.0 C1144.4 3400.0 1155.0 3399.3 1177.6 3386.2 L1403.0 3255.4 L1397.6 3265.1 L1414.0 3241.8 Z" fill="url(#gB2)"/><g transform="translate(1125.7 3196.7) scale(1.081 1.068)"><g transform="translate(0 4.5)"><ellipse rx="274.5" ry="135.5" transform="rotate(3.0)" fill="#0a64b8"/></g><ellipse rx="274.5" ry="135.5" transform="rotate(3.0)" fill="#0452de"/></g><clipPath id="B2c"><ellipse rx="274.5" ry="135.5" transform="translate(1125.7 3196.7) scale(1.081 1.068) rotate(3.0)"/></clipPath><g clip-path="url(#B2c)"><path d="M947.6 3080.3 L955.5 3075.0 L965.6 3070.9 L976.3 3067.3 L987.6 3064.0 L999.4 3061.1 L1011.6 3058.5 L1024.1 3056.2 L1036.9 3054.3 L1050.0 3052.7 L1063.3 3051.5 L1076.8 3050.6 L1090.5 3050.1 L1104.2 3050.0 L1118.0 3050.1 L1131.8 3050.7 L1145.6 3051.6 L1159.4 3052.8 L1173.0 3054.4 L1186.5 3056.4 L1199.8 3058.6 L1212.8 3061.2 L1225.6 3064.2 L1238.1 3067.4 L1250.2 3071.0 L1261.9 3074.9 L1273.1 3079.1 L1283.6 3083.7 L1292.1 3089.5 L1292.1 3089.5 L1278.7 3087.2 L1266.8 3084.1 L1254.8 3081.2 L1242.8 3078.5 L1230.7 3075.9 L1218.6 3073.6 L1206.3 3071.4 L1193.9 3069.5 L1181.5 3067.9 L1169.0 3066.5 L1156.5 3065.3 L1143.9 3064.3 L1131.3 3063.6 L1118.7 3063.2 L1106.1 3063.0 L1093.6 3063.0 L1081.1 3063.3 L1068.6 3063.8 L1056.2 3064.6 L1043.9 3065.6 L1031.7 3066.8 L1019.7 3068.3 L1007.7 3070.0 L995.8 3071.9 L984.1 3074.0 L972.4 3076.3 L960.7 3078.7 L947.6 3080.3Z" fill="#14d0e8"/><path d="M984.6 3070.4 L991.6 3065.8 L1000.4 3062.7 L1009.9 3060.1 L1019.7 3057.8 L1029.8 3055.8 L1040.2 3054.1 L1050.8 3052.6 L1061.7 3051.4 L1072.7 3050.5 L1083.8 3049.8 L1095.1 3049.4 L1106.4 3049.3 L1117.7 3049.4 L1129.1 3049.8 L1140.5 3050.4 L1151.9 3051.3 L1163.2 3052.5 L1174.4 3053.9 L1185.4 3055.5 L1196.4 3057.5 L1207.1 3059.6 L1217.7 3062.0 L1228.0 3064.7 L1238.0 3067.6 L1247.7 3070.8 L1257.0 3074.2 L1265.7 3078.0 L1272.4 3083.3 L1272.4 3083.3 L1260.4 3082.5 L1250.0 3080.7 L1239.9 3078.8 L1229.8 3077.0 L1219.7 3075.3 L1209.7 3073.7 L1199.6 3072.3 L1189.5 3070.9 L1179.4 3069.7 L1169.3 3068.7 L1159.2 3067.7 L1149.1 3066.9 L1138.9 3066.3 L1128.8 3065.8 L1118.6 3065.4 L1108.5 3065.1 L1098.3 3065.0 L1088.2 3065.0 L1078.0 3065.2 L1067.9 3065.5 L1057.8 3065.9 L1047.6 3066.5 L1037.5 3067.2 L1027.4 3068.0 L1017.3 3068.9 L1007.1 3069.8 L996.6 3070.7 L984.6 3070.4Z" fill="#30ec38"/><path d="M1035.0 3066.0 L1060.0 3056.0 L1190.0 3056.0 L1206.0 3068.0 L1200.0 3086.0 L1180.0 3098.0 L1120.0 3102.0 L1066.0 3098.0 L1042.0 3086.0Z" fill="#30ec38" stroke="#30ec38" stroke-width="5" stroke-linejoin="round" filter="url(#b2)"/><path d="M1040.0 3052.0 L1210.0 3052.0 L1190.0 3068.0 L1060.0 3068.0Z" fill="#8cf000" stroke="#8cf000" stroke-width="3" stroke-linejoin="round" filter="url(#b2)"/><path d="M1060.0 3064.0 L1080.0 3058.0 L1176.0 3058.0 L1190.0 3068.0 L1186.0 3082.0 L1166.0 3093.0 L1120.0 3096.0 L1078.0 3092.0 L1062.0 3080.0Z" fill="#dce800" stroke="#dce800" stroke-width="4" stroke-linejoin="round" filter="url(#b2)"/><path d="M1068.0 3079.0 L1090.0 3086.0 L1118.0 3090.0 L1150.0 3086.0 L1174.0 3084.0" fill="none" stroke="#f48800" stroke-width="8" stroke-linecap="round" stroke-linejoin="round"/><path d="M1086.0 3087.0 L1116.0 3091.0 L1146.0 3088.0" fill="none" stroke="#e83000" stroke-width="3.5" stroke-linecap="round" stroke-linejoin="round"/><path d="M882.5 3255.1 L889.3 3266.4 L901.0 3276.6 L914.9 3286.3 L930.6 3295.4 L947.8 3303.9 L966.4 3311.6 L986.3 3318.7 L1007.3 3324.9 L1029.2 3330.2 L1051.9 3334.7 L1075.1 3338.3 L1098.7 3340.8 L1122.6 3342.4 L1146.5 3343.1 L1170.2 3342.7 L1193.6 3341.3 L1216.6 3339.0 L1238.8 3335.7 L1260.2 3331.4 L1280.6 3326.3 L1299.9 3320.2 L1317.8 3313.4 L1334.3 3305.8 L1349.1 3297.5 L1362.2 3288.6 L1373.4 3279.0 L1382.2 3268.9 L1385.8 3257.7 L1385.8 3257.7 L1371.1 3265.8 L1358.5 3274.0 L1345.0 3281.9 L1330.6 3289.1 L1315.2 3295.8 L1298.8 3301.9 L1281.6 3307.3 L1263.6 3312.0 L1244.9 3316.0 L1225.5 3319.3 L1205.6 3321.9 L1185.3 3323.7 L1164.7 3324.7 L1143.9 3325.0 L1123.0 3324.5 L1102.0 3323.3 L1081.2 3321.2 L1060.6 3318.5 L1040.2 3315.0 L1020.3 3310.8 L1001.0 3305.9 L982.2 3300.3 L964.1 3294.0 L946.8 3287.2 L930.3 3279.8 L914.6 3271.8 L899.5 3263.4 L882.5 3255.1Z" fill="#14d0e8"/><path d="M956.8 3296.6 L962.3 3304.2 L971.6 3309.7 L982.1 3314.8 L993.4 3319.4 L1005.2 3323.6 L1017.7 3327.5 L1030.6 3331.0 L1043.9 3334.2 L1057.5 3336.9 L1071.4 3339.2 L1085.5 3341.2 L1099.8 3342.7 L1114.2 3343.8 L1128.7 3344.5 L1143.1 3344.8 L1157.5 3344.7 L1171.7 3344.1 L1185.8 3343.2 L1199.6 3341.8 L1213.2 3340.0 L1226.4 3337.7 L1239.1 3335.1 L1251.4 3332.1 L1263.2 3328.7 L1274.2 3324.8 L1284.5 3320.5 L1293.7 3315.5 L1298.9 3308.3 L1298.9 3308.3 L1283.2 3308.1 L1270.7 3309.7 L1258.6 3311.3 L1246.7 3312.9 L1234.9 3314.3 L1223.1 3315.5 L1211.2 3316.6 L1199.4 3317.4 L1187.6 3318.1 L1175.7 3318.6 L1163.8 3318.8 L1151.9 3318.9 L1140.0 3318.8 L1128.1 3318.5 L1116.2 3318.0 L1104.3 3317.3 L1092.4 3316.4 L1080.5 3315.3 L1068.6 3314.0 L1056.7 3312.5 L1044.9 3310.8 L1033.0 3309.0 L1021.1 3306.9 L1009.2 3304.7 L997.2 3302.3 L985.1 3299.9 L972.5 3297.4 L956.8 3296.6Z" fill="#30ec38"/><path d="M1024.0 3296.0 L1040.0 3278.0 L1064.0 3270.0 L1110.0 3264.0 L1180.0 3266.0 L1216.0 3276.0 L1234.0 3300.0 L1220.0 3330.0 L1130.0 3340.0 L1040.0 3330.0Z" fill="#30ec38" stroke="#30ec38" stroke-width="5" stroke-linejoin="round" filter="url(#b2)"/><path d="M1040.0 3316.0 L1230.0 3316.0 L1200.0 3336.0 L1060.0 3336.0Z" fill="#8cf000" stroke="#8cf000" stroke-width="3" stroke-linejoin="round" filter="url(#b2)"/><path d="M1056.0 3290.0 L1066.0 3278.0 L1100.0 3272.0 L1170.0 3272.0 L1200.0 3282.0 L1208.0 3300.0 L1196.0 3318.0 L1130.0 3324.0 L1070.0 3320.0 L1056.0 3306.0Z" fill="#dce800" stroke="#dce800" stroke-width="4" stroke-linejoin="round" filter="url(#b2)"/><path d="M1072.0 3290.0 L1100.0 3284.0 L1136.0 3282.0 L1170.0 3285.0 L1196.0 3291.0" fill="none" stroke="#f48800" stroke-width="11" stroke-linecap="round" stroke-linejoin="round"/><path d="M1072.0 3288.0 L1084.0 3285.0" fill="none" stroke="#e82000" stroke-width="6" stroke-linecap="round" stroke-linejoin="round"/><path d="M1098.0 3282.0 L1136.0 3279.0 L1170.0 3283.0 L1194.0 3290.0" fill="none" stroke="#e82800" stroke-width="4.5" stroke-linecap="round" stroke-linejoin="round"/></g><g transform="translate(1125.7 3196.7) scale(1.081 1.068)"><ellipse rx="274.5" ry="135.5" transform="rotate(3.0)" fill="none" stroke="#02306a" stroke-opacity="0.6" stroke-width="2"/></g></g></g>
<line x1="1762.5" y1="434.0" x2="1910.8" y2="359.3" stroke="#000" stroke-width="7"/>
<polygon points="1959.0,335.0 1913.1,372.7 1901.4,349.5" fill="#000"/>
<line x1="1428.3" y1="1216.7" x2="1580.7" y2="1222.9" stroke="#000" stroke-width="6.5"/>
<polygon points="1632.7,1225.0 1576.2,1235.7 1577.3,1209.7" fill="#000"/>
<path clip-path="url(#clipA)" fill="#f00" d="M252.0 1651.5l13.6 23.4h-27.2zM255.0 1651.2l13.6 23.4h-27.2zM258.0 1650.9l13.6 23.4h-27.2zM261.0 1650.6l13.6 23.4h-27.2zM263.9 1650.2l13.6 23.4h-27.2zM266.9 1649.9l13.6 23.4h-27.2zM269.9 1649.6l13.6 23.4h-27.2zM272.9 1649.2l13.6 23.4h-27.2zM275.9 1648.9l13.6 23.4h-27.2zM278.8 1648.6l13.6 23.4h-27.2zM281.8 1648.2l13.6 23.4h-27.2zM284.8 1647.8l13.6 23.4h-27.2zM287.8 1647.5l13.6 23.4h-27.2zM290.8 1647.1l13.6 23.4h-27.2zM293.7 1646.8l13.6 23.4h-27.2zM296.7 1646.4l13.6 23.4h-27.2zM299.7 1646.0l13.6 23.4h-27.2zM302.7 1645.7l13.6 23.4h-27.2zM305.7 1645.4l13.6 23.4h-27.2zM308.6 1645.1l13.6 23.4h-27.2zM311.6 1644.9l13.6 23.4h-27.2zM314.6 1644.6l13.6 23.4h-27.2zM317.6 1644.3l13.6 23.4h-27.2zM320.6 1644.0l13.6 23.4h-27.2zM323.6 1643.6l13.6 23.4h-27.2zM326.5 1643.2l13.6 23.4h-27.2zM329.5 1642.7l13.6 23.4h-27.2zM332.5 1642.1l13.6 23.4h-27.2zM335.4 1641.4l13.6 23.4h-27.2zM338.3 1640.4l13.6 23.4h-27.2zM340.8 1638.3l13.6 23.4h-27.2zM342.9 1635.8l13.6 23.4h-27.2zM344.3 1632.9l13.6 23.4h-27.2zM345.6 1630.1l13.6 23.4h-27.2zM346.7 1627.3l13.6 23.4h-27.2zM347.8 1624.6l13.6 23.4h-27.2zM349.0 1622.0l13.6 23.4h-27.2zM350.4 1619.2l13.6 23.4h-27.2zM351.6 1616.4l13.6 23.4h-27.2zM352.9 1613.8l13.6 23.4h-27.2zM354.3 1611.3l13.6 23.4h-27.2zM356.0 1609.5l13.6 23.4h-27.2zM358.7 1608.3l13.6 23.4h-27.2zM361.5 1607.5l13.6 23.4h-27.2zM364.5 1606.9l13.6 23.4h-27.2zM367.4 1606.3l13.6 23.4h-27.2zM370.3 1605.9l13.6 23.4h-27.2zM373.3 1605.4l13.6 23.4h-27.2zM376.3 1605.0l13.6 23.4h-27.2zM379.3 1604.6l13.6 23.4h-27.2zM382.2 1604.2l13.6 23.4h-27.2zM385.2 1603.7l13.6 23.4h-27.2zM388.2 1603.3l13.6 23.4h-27.2zM391.1 1602.8l13.6 23.4h-27.2zM394.1 1602.4l13.6 23.4h-27.2zM397.1 1601.9l13.6 23.4h-27.2zM400.0 1601.5l13.6 23.4h-27.2zM403.0 1601.0l13.6 23.4h-27.2zM406.0 1600.5l13.6 23.4h-27.2zM408.9 1600.1l13.6 23.4h-27.2zM411.9 1599.6l13.6 23.4h-27.2zM414.8 1599.2l13.6 23.4h-27.2zM417.8 1598.7l13.6 23.4h-27.2zM420.8 1598.3l13.6 23.4h-27.2zM423.7 1597.8l13.6 23.4h-27.2zM426.7 1597.4l13.6 23.4h-27.2zM429.7 1596.9l13.6 23.4h-27.2zM432.6 1596.5l13.6 23.4h-27.2zM435.6 1596.0l13.6 23.4h-27.2zM438.6 1595.6l13.6 23.4h-27.2zM441.5 1595.1l13.6 23.4h-27.2zM444.5 1594.6l13.6 23.4h-27.2zM447.5 1594.2l13.6 23.4h-27.2zM450.4 1593.7l13.6 23.4h-27.2zM453.4 1593.3l13.6 23.4h-27.2zM456.4 1592.8l13.6 23.4h-27.2zM459.3 1592.4l13.6 23.4h-27.2zM462.3 1591.9l13.6 23.4h-27.2zM465.3 1591.4l13.6 23.4h-27.2zM468.2 1591.0l13.6 23.4h-27.2zM471.2 1590.5l13.6 23.4h-27.2zM474.2 1590.1l13.6 23.4h-27.2zM477.1 1589.6l13.6 23.4h-27.2zM480.1 1589.1l13.6 23.4h-27.2zM483.0 1588.7l13.6 23.4h-27.2zM486.0 1588.2l13.6 23.4h-27.2zM489.0 1587.8l13.6 23.4h-27.2zM491.9 1587.3l13.6 23.4h-27.2zM494.9 1586.8l13.6 23.4h-27.2zM497.9 1586.4l13.6 23.4h-27.2zM500.8 1585.9l13.6 23.4h-27.2zM503.8 1585.4l13.6 23.4h-27.2zM506.8 1585.0l13.6 23.4h-27.2zM509.7 1584.5l13.6 23.4h-27.2zM512.7 1584.0l13.6 23.4h-27.2zM515.6 1583.6l13.6 23.4h-27.2zM518.6 1583.1l13.6 23.4h-27.2zM521.6 1582.6l13.6 23.4h-27.2zM524.5 1582.2l13.6 23.4h-27.2zM527.5 1581.7l13.6 23.4h-27.2zM530.5 1581.2l13.6 23.4h-27.2zM533.4 1580.8l13.6 23.4h-27.2zM536.4 1580.3l13.6 23.4h-27.2zM539.3 1579.8l13.6 23.4h-27.2zM542.3 1579.3l13.6 23.4h-27.2zM545.3 1578.9l13.6 23.4h-27.2zM548.2 1578.4l13.6 23.4h-27.2zM551.2 1577.9l13.6 23.4h-27.2zM554.2 1577.4l13.6 23.4h-27.2zM557.1 1577.0l13.6 23.4h-27.2zM560.1 1576.5l13.6 23.4h-27.2zM563.0 1576.0l13.6 23.4h-27.2zM566.0 1575.5l13.6 23.4h-27.2zM569.0 1575.0l13.6 23.4h-27.2zM571.9 1574.6l13.6 23.4h-27.2zM574.9 1574.1l13.6 23.4h-27.2zM577.9 1573.6l13.6 23.4h-27.2zM580.8 1573.1l13.6 23.4h-27.2zM583.8 1572.6l13.6 23.4h-27.2zM586.7 1572.2l13.6 23.4h-27.2zM589.7 1571.7l13.6 23.4h-27.2zM592.7 1571.2l13.6 23.4h-27.2zM595.6 1570.7l13.6 23.4h-27.2zM598.6 1570.2l13.6 23.4h-27.2zM601.5 1569.7l13.6 23.4h-27.2zM604.5 1569.2l13.6 23.4h-27.2zM607.5 1568.7l13.6 23.4h-27.2zM610.4 1568.2l13.6 23.4h-27.2zM613.4 1567.8l13.6 23.4h-27.2zM616.3 1567.3l13.6 23.4h-27.2zM619.3 1566.8l13.6 23.4h-27.2zM622.3 1566.3l13.6 23.4h-27.2zM625.2 1565.8l13.6 23.4h-27.2zM628.2 1565.3l13.6 23.4h-27.2zM631.1 1564.8l13.6 23.4h-27.2zM634.1 1564.3l13.6 23.4h-27.2zM637.0 1563.8l13.6 23.4h-27.2zM640.0 1563.3l13.6 23.4h-27.2zM643.0 1562.8l13.6 23.4h-27.2zM645.9 1562.3l13.6 23.4h-27.2zM648.9 1561.8l13.6 23.4h-27.2zM651.8 1561.3l13.6 23.4h-27.2zM654.8 1560.8l13.6 23.4h-27.2zM657.7 1560.3l13.6 23.4h-27.2zM660.7 1559.7l13.6 23.4h-27.2zM663.7 1559.2l13.6 23.4h-27.2zM666.6 1558.7l13.6 23.4h-27.2zM669.6 1558.2l13.6 23.4h-27.2zM672.5 1557.7l13.6 23.4h-27.2zM675.5 1557.2l13.6 23.4h-27.2zM678.4 1556.7l13.6 23.4h-27.2zM681.4 1556.2l13.6 23.4h-27.2zM684.4 1555.6l13.6 23.4h-27.2zM687.3 1555.1l13.6 23.4h-27.2zM690.3 1554.6l13.6 23.4h-27.2zM693.2 1554.1l13.6 23.4h-27.2zM696.2 1553.6l13.6 23.4h-27.2zM699.1 1553.0l13.6 23.4h-27.2zM702.1 1552.5l13.6 23.4h-27.2zM705.0 1552.0l13.6 23.4h-27.2zM708.0 1551.5l13.6 23.4h-27.2zM710.9 1550.9l13.6 23.4h-27.2zM713.9 1550.4l13.6 23.4h-27.2zM716.8 1549.9l13.6 23.4h-27.2zM719.8 1549.3l13.6 23.4h-27.2zM722.7 1548.8l13.6 23.4h-27.2zM725.7 1548.3l13.6 23.4h-27.2zM728.7 1547.7l13.6 23.4h-27.2zM731.6 1547.2l13.6 23.4h-27.2zM734.6 1546.7l13.6 23.4h-27.2zM737.5 1546.1l13.6 23.4h-27.2zM740.5 1545.6l13.6 23.4h-27.2zM743.4 1545.0l13.6 23.4h-27.2zM746.4 1544.5l13.6 23.4h-27.2zM749.3 1543.9l13.6 23.4h-27.2zM752.3 1543.4l13.6 23.4h-27.2zM755.2 1542.9l13.6 23.4h-27.2zM758.2 1542.3l13.6 23.4h-27.2zM761.1 1541.8l13.6 23.4h-27.2zM764.1 1541.2l13.6 23.4h-27.2zM767.0 1540.6l13.6 23.4h-27.2zM770.0 1540.1l13.6 23.4h-27.2zM772.9 1539.5l13.6 23.4h-27.2zM775.8 1539.0l13.6 23.4h-27.2zM778.8 1538.4l13.6 23.4h-27.2zM781.7 1537.9l13.6 23.4h-27.2zM784.7 1537.3l13.6 23.4h-27.2zM787.6 1536.7l13.6 23.4h-27.2zM790.6 1536.2l13.6 23.4h-27.2zM793.5 1535.6l13.6 23.4h-27.2zM796.5 1535.0l13.6 23.4h-27.2zM799.4 1534.5l13.6 23.4h-27.2zM802.4 1533.9l13.6 23.4h-27.2zM805.3 1533.3l13.6 23.4h-27.2zM808.3 1532.7l13.6 23.4h-27.2zM811.2 1532.2l13.6 23.4h-27.2zM814.1 1531.6l13.6 23.4h-27.2zM817.1 1531.0l13.6 23.4h-27.2zM820.0 1530.4l13.6 23.4h-27.2zM823.0 1529.9l13.6 23.4h-27.2zM825.9 1529.3l13.6 23.4h-27.2zM828.9 1528.7l13.6 23.4h-27.2zM831.8 1528.1l13.6 23.4h-27.2zM834.7 1527.5l13.6 23.4h-27.2zM837.7 1526.9l13.6 23.4h-27.2zM840.6 1526.3l13.6 23.4h-27.2zM843.6 1525.7l13.6 23.4h-27.2zM846.5 1525.1l13.6 23.4h-27.2zM849.4 1524.5l13.6 23.4h-27.2zM852.4 1523.9l13.6 23.4h-27.2zM855.3 1523.3l13.6 23.4h-27.2zM858.3 1522.7l13.6 23.4h-27.2zM861.2 1522.1l13.6 23.4h-27.2zM864.1 1521.5l13.6 23.4h-27.2zM867.1 1520.9l13.6 23.4h-27.2zM870.0 1520.3l13.6 23.4h-27.2zM873.0 1519.7l13.6 23.4h-27.2zM875.9 1519.1l13.6 23.4h-27.2zM878.8 1518.5l13.6 23.4h-27.2zM881.8 1517.9l13.6 23.4h-27.2zM884.7 1517.2l13.6 23.4h-27.2zM887.6 1516.6l13.6 23.4h-27.2zM890.6 1516.0l13.6 23.4h-27.2zM893.5 1515.4l13.6 23.4h-27.2zM896.4 1514.8l13.6 23.4h-27.2zM899.4 1514.1l13.6 23.4h-27.2zM902.3 1513.5l13.6 23.4h-27.2zM905.2 1512.9l13.6 23.4h-27.2zM908.2 1512.2l13.6 23.4h-27.2zM911.1 1511.6l13.6 23.4h-27.2zM914.0 1511.0l13.6 23.4h-27.2zM917.0 1510.3l13.6 23.4h-27.2zM919.9 1509.7l13.6 23.4h-27.2zM922.8 1509.0l13.6 23.4h-27.2zM925.8 1508.4l13.6 23.4h-27.2zM928.7 1507.8l13.6 23.4h-27.2zM931.6 1507.1l13.6 23.4h-27.2zM934.6 1506.5l13.6 23.4h-27.2zM937.5 1505.8l13.6 23.4h-27.2zM940.4 1505.2l13.6 23.4h-27.2zM943.3 1504.5l13.6 23.4h-27.2zM946.3 1503.8l13.6 23.4h-27.2zM949.2 1503.2l13.6 23.4h-27.2zM952.1 1502.5l13.6 23.4h-27.2zM955.0 1501.9l13.6 23.4h-27.2zM958.0 1501.2l13.6 23.4h-27.2zM960.9 1500.5l13.6 23.4h-27.2zM963.8 1499.9l13.6 23.4h-27.2zM966.7 1499.2l13.6 23.4h-27.2zM969.7 1498.5l13.6 23.4h-27.2zM972.6 1497.8l13.6 23.4h-27.2zM975.5 1497.2l13.6 23.4h-27.2zM978.4 1496.5l13.6 23.4h-27.2zM981.4 1495.8l13.6 23.4h-27.2zM984.3 1495.1l13.6 23.4h-27.2zM987.2 1494.4l13.6 23.4h-27.2zM990.1 1493.7l13.6 23.4h-27.2zM993.0 1493.1l13.6 23.4h-27.2zM996.0 1492.4l13.6 23.4h-27.2zM998.9 1491.7l13.6 23.4h-27.2zM1001.8 1491.0l13.6 23.4h-27.2zM1004.7 1490.3l13.6 23.4h-27.2zM1007.6 1489.6l13.6 23.4h-27.2zM1010.5 1488.9l13.6 23.4h-27.2zM1013.5 1488.2l13.6 23.4h-27.2zM1016.4 1487.5l13.6 23.4h-27.2zM1019.3 1486.8l13.6 23.4h-27.2zM1022.2 1486.0l13.6 23.4h-27.2zM1025.1 1485.3l13.6 23.4h-27.2zM1028.0 1484.6l13.6 23.4h-27.2zM1031.0 1483.9l13.6 23.4h-27.2zM1033.9 1483.2l13.6 23.4h-27.2zM1036.8 1482.5l13.6 23.4h-27.2zM1039.7 1481.7l13.6 23.4h-27.2zM1042.6 1481.0l13.6 23.4h-27.2zM1045.5 1480.3l13.6 23.4h-27.2zM1048.4 1479.5l13.6 23.4h-27.2zM1051.3 1478.8l13.6 23.4h-27.2zM1054.2 1478.1l13.6 23.4h-27.2zM1057.1 1477.3l13.6 23.4h-27.2zM1060.1 1476.6l13.6 23.4h-27.2zM1063.0 1475.9l13.6 23.4h-27.2zM1065.9 1475.1l13.6 23.4h-27.2zM1068.8 1474.4l13.6 23.4h-27.2zM1071.7 1473.6l13.6 23.4h-27.2zM1074.6 1472.9l13.6 23.4h-27.2zM1077.5 1472.1l13.6 23.4h-27.2zM1080.4 1471.3l13.6 23.4h-27.2zM1083.3 1470.6l13.6 23.4h-27.2zM1086.2 1469.8l13.6 23.4h-27.2zM1089.1 1469.1l13.6 23.4h-27.2zM1092.0 1468.3l13.6 23.4h-27.2zM1094.9 1467.5l13.6 23.4h-27.2zM1097.8 1466.8l13.6 23.4h-27.2zM1100.7 1466.0l13.6 23.4h-27.2zM1103.6 1465.2l13.6 23.4h-27.2zM1106.5 1464.4l13.6 23.4h-27.2zM1109.4 1463.7l13.6 23.4h-27.2zM1112.3 1462.9l13.6 23.4h-27.2zM1115.2 1462.1l13.6 23.4h-27.2zM1118.1 1461.3l13.6 23.4h-27.2zM1121.0 1460.5l13.6 23.4h-27.2zM1123.9 1459.7l13.6 23.4h-27.2zM1126.8 1458.9l13.6 23.4h-27.2zM1129.6 1458.1l13.6 23.4h-27.2zM1132.5 1457.3l13.6 23.4h-27.2zM1135.4 1456.5l13.6 23.4h-27.2zM1138.3 1455.7l13.6 23.4h-27.2zM1141.2 1454.9l13.6 23.4h-27.2zM1144.1 1454.1l13.6 23.4h-27.2zM1147.0 1453.3l13.6 23.4h-27.2zM1149.9 1452.5l13.6 23.4h-27.2zM1152.8 1451.7l13.6 23.4h-27.2zM1155.7 1450.8l13.6 23.4h-27.2zM1158.5 1450.0l13.6 23.4h-27.2zM1161.4 1449.2l13.6 23.4h-27.2zM1164.3 1448.4l13.6 23.4h-27.2zM1167.2 1447.5l13.6 23.4h-27.2zM1170.1 1446.7l13.6 23.4h-27.2zM1173.0 1445.9l13.6 23.4h-27.2zM1175.8 1445.0l13.6 23.4h-27.2zM1178.7 1444.2l13.6 23.4h-27.2zM1181.6 1443.4l13.6 23.4h-27.2zM1184.5 1442.5l13.6 23.4h-27.2zM1187.4 1441.7l13.6 23.4h-27.2zM1190.2 1440.8l13.6 23.4h-27.2zM1193.1 1440.0l13.6 23.4h-27.2zM1196.0 1439.1l13.6 23.4h-27.2zM1198.9 1438.3l13.6 23.4h-27.2zM1201.7 1437.4l13.6 23.4h-27.2zM1204.6 1436.5l13.6 23.4h-27.2zM1207.5 1435.7l13.6 23.4h-27.2zM1210.4 1434.8l13.6 23.4h-27.2zM1213.2 1433.9l13.6 23.4h-27.2zM1216.1 1433.1l13.6 23.4h-27.2zM1219.0 1432.2l13.6 23.4h-27.2zM1221.8 1431.3l13.6 23.4h-27.2zM1224.7 1430.4l13.6 23.4h-27.2zM1227.6 1429.5l13.6 23.4h-27.2zM1230.4 1428.7l13.6 23.4h-27.2zM1233.3 1427.8l13.6 23.4h-27.2zM1236.2 1426.9l13.6 23.4h-27.2zM1239.0 1426.0l13.6 23.4h-27.2zM1241.9 1425.1l13.6 23.4h-27.2zM1244.8 1424.2l13.6 23.4h-27.2zM1247.6 1423.3l13.6 23.4h-27.2zM1250.5 1422.4l13.6 23.4h-27.2zM1253.3 1421.5l13.6 23.4h-27.2zM1256.2 1420.6l13.6 23.4h-27.2zM1259.1 1419.6l13.6 23.4h-27.2zM1261.9 1418.7l13.6 23.4h-27.2zM1264.8 1417.8l13.6 23.4h-27.2zM1267.6 1416.9l13.6 23.4h-27.2zM1270.5 1416.0l13.6 23.4h-27.2zM1273.3 1415.0l13.6 23.4h-27.2zM1276.2 1414.1l13.6 23.4h-27.2zM1279.0 1413.2l13.6 23.4h-27.2zM1281.9 1412.2l13.6 23.4h-27.2zM1284.7 1411.3l13.6 23.4h-27.2zM1287.6 1410.4l13.6 23.4h-27.2zM1290.4 1409.4l13.6 23.4h-27.2zM1293.3 1408.5l13.6 23.4h-27.2zM1296.1 1407.5l13.6 23.4h-27.2zM1299.0 1406.6l13.6 23.4h-27.2zM1301.8 1405.6l13.6 23.4h-27.2zM1304.7 1404.7l13.6 23.4h-27.2zM1307.5 1403.7l13.6 23.4h-27.2zM1310.3 1402.7l13.6 23.4h-27.2zM1313.2 1401.8l13.6 23.4h-27.2zM1316.0 1400.8l13.6 23.4h-27.2zM1318.9 1399.8l13.6 23.4h-27.2zM1321.7 1398.9l13.6 23.4h-27.2zM1324.5 1397.9l13.6 23.4h-27.2zM1327.4 1396.9l13.6 23.4h-27.2zM1330.2 1395.9l13.6 23.4h-27.2zM1333.0 1394.9l13.6 23.4h-27.2zM1335.9 1393.9l13.6 23.4h-27.2zM1338.7 1393.0l13.6 23.4h-27.2zM1341.5 1392.0l13.6 23.4h-27.2zM1344.4 1391.0l13.6 23.4h-27.2zM1347.2 1390.0l13.6 23.4h-27.2zM1350.0 1389.0l13.6 23.4h-27.2zM1352.9 1388.0l13.6 23.4h-27.2zM1355.7 1386.9l13.6 23.4h-27.2zM1358.5 1385.9l13.6 23.4h-27.2zM1361.3 1384.9l13.6 23.4h-27.2zM1364.2 1383.9l13.6 23.4h-27.2zM1367.0 1382.9l13.6 23.4h-27.2zM1369.8 1381.9l13.6 23.4h-27.2zM1372.6 1380.8l13.6 23.4h-27.2zM1375.4 1379.8l13.6 23.4h-27.2zM1378.2 1378.8l13.6 23.4h-27.2zM1381.1 1377.7l13.6 23.4h-27.2zM1383.9 1376.7l13.6 23.4h-27.2zM1386.7 1375.7l13.6 23.4h-27.2zM1389.5 1374.6l13.6 23.4h-27.2zM1392.3 1373.6l13.6 23.4h-27.2zM1395.1 1372.5l13.6 23.4h-27.2zM1397.9 1371.5l13.6 23.4h-27.2zM1400.8 1370.4l13.6 23.4h-27.2zM1403.6 1369.4l13.6 23.4h-27.2zM1406.4 1368.3l13.6 23.4h-27.2zM1409.2 1367.2l13.6 23.4h-27.2zM1412.0 1366.2l13.6 23.4h-27.2zM1414.8 1365.1l13.6 23.4h-27.2zM1417.6 1364.0l13.6 23.4h-27.2zM1420.4 1363.0l13.6 23.4h-27.2zM1423.2 1361.9l13.6 23.4h-27.2zM1426.0 1360.8l13.6 23.4h-27.2zM1428.8 1359.7l13.6 23.4h-27.2zM1431.6 1358.6l13.6 23.4h-27.2zM1434.4 1357.5l13.6 23.4h-27.2zM1437.2 1356.4l13.6 23.4h-27.2zM1440.0 1355.3l13.6 23.4h-27.2zM1442.8 1354.2l13.6 23.4h-27.2zM1445.5 1353.1l13.6 23.4h-27.2zM1448.3 1352.0l13.6 23.4h-27.2zM1451.1 1350.9l13.6 23.4h-27.2zM1453.9 1349.8l13.6 23.4h-27.2zM1456.7 1348.7l13.6 23.4h-27.2zM1459.4 1347.4l13.6 23.4h-27.2zM1462.1 1346.1l13.6 23.4h-27.2zM1464.8 1344.8l13.6 23.4h-27.2zM1467.5 1343.5l13.6 23.4h-27.2zM1470.2 1342.2l13.6 23.4h-27.2zM1472.9 1340.9l13.6 23.4h-27.2zM1475.6 1339.6l13.6 23.4h-27.2zM1478.3 1338.2l13.6 23.4h-27.2zM1481.0 1336.9l13.6 23.4h-27.2zM1483.7 1335.6l13.6 23.4h-27.2zM1486.4 1334.3l13.6 23.4h-27.2zM1489.1 1332.9l13.6 23.4h-27.2zM1491.8 1332.5l13.6 23.4h-27.2zM1494.8 1332.5l13.6 23.4h-27.2zM1497.8 1332.5l13.6 23.4h-27.2zM1500.8 1332.5l13.6 23.4h-27.2zM1503.8 1332.5l13.6 23.4h-27.2zM1506.8 1332.5l13.6 23.4h-27.2zM1509.8 1332.5l13.6 23.4h-27.2zM1512.8 1332.5l13.6 23.4h-27.2zM1515.6 1330.9l13.6 23.4h-27.2zM1518.2 1329.3l13.6 23.4h-27.2zM1520.7 1327.7l13.6 23.4h-27.2zM1523.2 1326.1l13.6 23.4h-27.2zM1525.8 1324.5l13.6 23.4h-27.2zM1528.3 1322.8l13.6 23.4h-27.2zM1530.8 1321.2l13.6 23.4h-27.2zM1533.3 1319.6l13.6 23.4h-27.2zM1535.9 1318.0l13.6 23.4h-27.2zM1538.4 1316.3l13.6 23.4h-27.2zM1540.9 1314.7l13.6 23.4h-27.2zM1543.4 1313.0l13.6 23.4h-27.2zM1545.9 1311.4l13.6 23.4h-27.2zM1548.4 1310.1l13.6 23.4h-27.2zM1551.2 1308.8l13.6 23.4h-27.2zM1553.9 1307.6l13.6 23.4h-27.2zM1556.6 1306.4l13.6 23.4h-27.2zM1559.4 1305.2l13.6 23.4h-27.2zM1562.1 1303.9l13.6 23.4h-27.2zM1564.9 1302.7l13.6 23.4h-27.2zM1567.6 1301.5l13.6 23.4h-27.2zM1570.3 1300.2l13.6 23.4h-27.2zM1573.1 1299.0l13.6 23.4h-27.2zM1575.8 1297.8l13.6 23.4h-27.2zM1578.5 1296.5l13.6 23.4h-27.2zM1581.2 1294.9l13.6 23.4h-27.2zM1583.7 1293.2l13.6 23.4h-27.2zM1586.2 1291.6l13.6 23.4h-27.2zM1588.7 1289.9l13.6 23.4h-27.2zM1591.2 1288.2l13.6 23.4h-27.2zM1593.7 1286.5l13.6 23.4h-27.2zM1596.2 1284.8l13.6 23.4h-27.2zM1598.6 1283.1l13.6 23.4h-27.2zM1601.1 1281.4l13.6 23.4h-27.2zM1603.6 1279.7l13.6 23.4h-27.2zM1606.0 1277.9l13.6 23.4h-27.2zM1608.5 1276.2l13.6 23.4h-27.2zM1610.9 1274.4l13.6 23.4h-27.2zM1613.3 1272.6l13.6 23.4h-27.2zM1616.2 1272.5l13.6 23.4h-27.2zM1619.2 1272.5l13.6 23.4h-27.2zM1622.2 1272.5l13.6 23.4h-27.2zM1625.2 1272.5l13.6 23.4h-27.2zM1628.2 1272.5l13.6 23.4h-27.2zM1631.2 1272.5l13.6 23.4h-27.2zM1634.2 1272.5l13.6 23.4h-27.2zM1637.2 1272.1l13.6 23.4h-27.2zM1639.7 1270.4l13.6 23.4h-27.2zM1642.2 1268.8l13.6 23.4h-27.2zM1644.8 1267.2l13.6 23.4h-27.2zM1647.3 1265.5l13.6 23.4h-27.2zM1649.8 1263.8l13.6 23.4h-27.2zM1652.3 1262.2l13.6 23.4h-27.2zM1654.3 1260.8l13.6 23.4h-27.2zM1656.2 1259.5l13.6 23.4h-27.2zM1658.2 1258.1l13.6 23.4h-27.2zM1660.2 1256.7l13.6 23.4h-27.2zM1662.2 1255.3l13.6 23.4h-27.2zM1664.1 1254.0l13.6 23.4h-27.2zM1666.1 1252.6l13.6 23.4h-27.2zM1668.0 1251.2l13.6 23.4h-27.2zM1670.0 1249.7l13.6 23.4h-27.2zM1671.9 1248.5l13.6 23.4h-27.2zM1674.0 1247.3l13.6 23.4h-27.2zM1676.0 1246.1l13.6 23.4h-27.2zM1678.1 1244.8l13.6 23.4h-27.2zM1680.1 1243.6l13.6 23.4h-27.2zM1682.2 1242.3l13.6 23.4h-27.2zM1684.2 1241.1l13.6 23.4h-27.2zM1686.3 1239.8l13.6 23.4h-27.2zM1688.3 1238.5l13.6 23.4h-27.2zM1690.3 1237.2l13.6 23.4h-27.2zM1692.4 1235.9l13.6 23.4h-27.2zM1694.4 1234.6l13.6 23.4h-27.2zM1696.4 1233.3l13.6 23.4h-27.2zM1698.4 1232.0l13.6 23.4h-27.2zM1700.4 1230.7l13.6 23.4h-27.2zM1702.4 1229.4l13.6 23.4h-27.2zM1704.4 1228.0l13.6 23.4h-27.2zM1706.4 1226.7l13.6 23.4h-27.2zM1708.4 1225.4l13.6 23.4h-27.2zM1710.4 1224.0l13.6 23.4h-27.2zM1712.4 1222.6l13.6 23.4h-27.2zM1714.2 1220.9l13.6 23.4h-27.2zM1716.0 1219.3l13.6 23.4h-27.2zM1717.7 1217.6l13.6 23.4h-27.2zM1719.4 1216.0l13.6 23.4h-27.2zM1721.1 1214.3l13.6 23.4h-27.2zM1722.9 1212.6l13.6 23.4h-27.2zM1724.6 1210.9l13.6 23.4h-27.2zM1726.3 1209.2l13.6 23.4h-27.2zM1728.0 1207.5l13.6 23.4h-27.2zM1729.6 1205.8l13.6 23.4h-27.2zM1731.3 1204.1l13.6 23.4h-27.2zM1733.0 1202.3l13.6 23.4h-27.2zM1734.6 1200.6l13.6 23.4h-27.2zM1736.3 1198.8l13.6 23.4h-27.2zM1737.9 1197.1l13.6 23.4h-27.2zM1739.6 1195.3l13.6 23.4h-27.2zM1741.2 1193.5l13.6 23.4h-27.2zM1742.8 1191.8l13.6 23.4h-27.2zM1744.4 1190.0l13.6 23.4h-27.2zM1746.0 1188.2l13.6 23.4h-27.2zM1747.6 1187.5l13.6 23.4h-27.2zM1750.0 1187.5l13.6 23.4h-27.2zM1752.4 1187.5l13.6 23.4h-27.2zM1754.8 1187.5l13.6 23.4h-27.2zM1757.2 1187.5l13.6 23.4h-27.2zM1759.6 1187.0l13.6 23.4h-27.2zM1761.4 1185.4l13.6 23.4h-27.2zM1763.2 1183.8l13.6 23.4h-27.2zM1765.0 1182.3l13.6 23.4h-27.2zM1766.8 1180.7l13.6 23.4h-27.2zM1768.6 1179.1l13.6 23.4h-27.2zM1770.4 1177.5l13.6 23.4h-27.2zM1772.2 1175.9l13.6 23.4h-27.2zM1774.0 1174.3l13.6 23.4h-27.2zM1775.8 1172.6l13.6 23.4h-27.2zM1777.5 1171.0l13.6 23.4h-27.2zM1779.3 1169.4l13.6 23.4h-27.2zM1781.0 1167.7l13.6 23.4h-27.2zM1782.8 1166.1l13.6 23.4h-27.2zM1784.5 1164.4l13.6 23.4h-27.2zM1786.3 1162.7l13.6 23.4h-27.2zM1788.0 1161.1l13.6 23.4h-27.2zM1789.7 1159.4l13.6 23.4h-27.2zM1791.4 1157.7l13.6 23.4h-27.2zM1793.1 1156.0l13.6 23.4h-27.2zM1794.9 1154.4l13.6 23.4h-27.2zM1796.6 1152.7l13.6 23.4h-27.2zM1798.3 1151.0l13.6 23.4h-27.2zM1800.0 1149.3l13.6 23.4h-27.2zM1801.7 1147.6l13.6 23.4h-27.2zM1803.4 1145.9l13.6 23.4h-27.2zM1805.1 1144.2l13.6 23.4h-27.2zM1806.7 1142.4l13.6 23.4h-27.2zM1808.4 1140.7l13.6 23.4h-27.2zM1810.1 1139.0l13.6 23.4h-27.2zM1811.7 1137.2l13.6 23.4h-27.2zM1813.4 1135.5l13.6 23.4h-27.2zM1815.0 1133.7l13.6 23.4h-27.2zM1816.7 1132.0l13.6 23.4h-27.2zM1818.3 1130.2l13.6 23.4h-27.2zM1819.9 1128.4l13.6 23.4h-27.2zM1821.5 1126.7l13.6 23.4h-27.2zM1823.2 1124.9l13.6 23.4h-27.2zM1824.8 1123.1l13.6 23.4h-27.2zM1826.4 1121.3l13.6 23.4h-27.2zM1827.9 1119.5l13.6 23.4h-27.2zM1829.5 1117.7l13.6 23.4h-27.2zM1831.1 1115.9l13.6 23.4h-27.2zM1832.6 1114.0l13.6 23.4h-27.2zM1834.2 1112.2l13.6 23.4h-27.2zM1835.7 1110.3l13.6 23.4h-27.2zM1837.3 1108.5l13.6 23.4h-27.2zM1838.8 1106.6l13.6 23.4h-27.2zM1840.3 1104.7l13.6 23.4h-27.2zM1841.8 1102.9l13.6 23.4h-27.2zM1843.3 1101.0l13.6 23.4h-27.2zM1844.8 1099.1l13.6 23.4h-27.2zM1846.2 1097.2l13.6 23.4h-27.2zM1847.7 1095.3l13.6 23.4h-27.2zM1849.1 1093.3l13.6 23.4h-27.2zM1850.6 1091.4l13.6 23.4h-27.2zM1852.0 1089.4l13.6 23.4h-27.2zM1853.4 1087.5l13.6 23.4h-27.2zM1854.8 1085.5l13.6 23.4h-27.2zM1856.2 1083.6l13.6 23.4h-27.2zM1857.5 1081.6l13.6 23.4h-27.2zM1858.9 1079.6l13.6 23.4h-27.2zM1860.3 1077.6l13.6 23.4h-27.2zM1861.6 1075.6l13.6 23.4h-27.2zM1862.9 1073.6l13.6 23.4h-27.2zM1864.2 1071.6l13.6 23.4h-27.2zM1865.5 1069.6l13.6 23.4h-27.2zM1866.8 1067.5l13.6 23.4h-27.2zM1868.1 1065.5l13.6 23.4h-27.2zM1869.4 1063.5l13.6 23.4h-27.2zM1870.6 1061.4l13.6 23.4h-27.2zM1871.5 1059.6l13.6 23.4h-27.2zM1874.0 1059.6l13.6 23.4h-27.2zM1876.5 1059.6l13.6 23.4h-27.2zM1879.0 1059.6l13.6 23.4h-27.2zM1881.5 1059.6l13.6 23.4h-27.2zM1884.0 1059.6l13.6 23.4h-27.2zM1989.6 307.9l13.6 23.4h-27.2zM1988.5 491.2l13.6 23.4h-27.2zM1983.2 600.0l13.6 23.4h-27.2zM1980.5 735.3l13.6 23.4h-27.2zM1975.2 791.2l13.6 23.4h-27.2zM1969.9 817.9l13.6 23.4h-27.2zM1964.2 868.2l13.6 23.4h-27.2zM1956.2 904.6l13.6 23.4h-27.2zM1948.0 931.4l13.6 23.4h-27.2zM1940.3 951.6l13.6 23.4h-27.2zM1930.2 973.4l13.6 23.4h-27.2zM1919.3 995.3l13.6 23.4h-27.2zM1911.1 1011.7l13.6 23.4h-27.2zM1902.9 1028.1l13.6 23.4h-27.2zM1894.7 1043.1l13.6 23.4h-27.2z"/>
<g fill="#000"><rect x="247" y="2050.0" width="10" height="1626.0"/><rect x="247" y="3663.0" width="2015" height="10"/><rect x="256" y="3528.6" width="11.7" height="10"/><rect x="256" y="3394.2" width="27.7" height="10"/><rect x="256" y="3259.8" width="11.7" height="10"/><rect x="256" y="3125.3" width="27.7" height="10"/><rect x="256" y="2990.9" width="11.7" height="10"/><rect x="256" y="2856.5" width="27.7" height="10"/><rect x="256" y="2722.1" width="11.7" height="10"/><rect x="256" y="2587.7" width="27.7" height="10"/><rect x="256" y="2453.2" width="11.7" height="10"/><rect x="256" y="2318.8" width="27.7" height="10"/><rect x="256" y="2184.4" width="11.7" height="10"/><rect x="256" y="2050.0" width="27.7" height="10"/><rect x="534.7" y="3636.0" width="10" height="30"/><rect x="820.4" y="3636.0" width="10" height="30"/><rect x="1106.1" y="3636.0" width="10" height="30"/><rect x="1391.9" y="3636.0" width="10" height="30"/><rect x="1677.6" y="3636.0" width="10" height="30"/><rect x="1963.3" y="3636.0" width="10" height="30"/><rect x="2249.0" y="3636.0" width="10" height="30"/></g>
<g font-family='"Liberation Serif","DejaVu Serif",serif' font-weight="700" font-size="67.5" letter-spacing="1.1" fill="#000" stroke="#fff" stroke-width="0.7"><text x="221.2" y="3688.5" text-anchor="end">0.0</text><text x="221.2" y="3419.7" text-anchor="end">0.2</text><text x="221.2" y="3150.8" text-anchor="end">0.4</text><text x="221.2" y="2882.0" text-anchor="end">0.6</text><text x="221.2" y="2613.2" text-anchor="end">0.8</text><text x="221.2" y="2344.3" text-anchor="end">1.0</text><text x="221.2" y="2075.5" text-anchor="end">1.2</text><text x="255.5" y="3754.5" text-anchor="middle">0</text><text x="541.2" y="3754.5" text-anchor="middle">200</text><text x="826.9" y="3754.5" text-anchor="middle">400</text><text x="1112.6" y="3754.5" text-anchor="middle">600</text><text x="1398.4" y="3754.5" text-anchor="middle">800</text><text x="1684.1" y="3754.5" text-anchor="middle">1000</text><text x="1969.8" y="3754.5" text-anchor="middle">1200</text><text x="2255.5" y="3754.5" text-anchor="middle">1400</text></g>
<text transform="translate(97.5 2862.5) rotate(-90)" text-anchor="middle" font-family='"Liberation Serif","DejaVu Serif",serif' font-size="84.6" fill="#000">Damage</text>
<text x="1253.5" y="3884.5" text-anchor="middle" font-family='"Liberation Serif","DejaVu Serif",serif' font-size="84.5" letter-spacing="0.7" fill="#000"><tspan font-style="italic">N</tspan> (cycles)</text>
<path d="M294.3 2082.4l13.6 23.4h-27.2z" fill="#f00"/>
<g font-family='"Liberation Serif","DejaVu Serif",serif' font-size="76" fill="#000"><text x="398" y="2122.3">ASME code, <tspan font-style="italic">D</tspan><tspan font-style="italic" font-size="50" dy="17">i</tspan><tspan dy="-17">=230 mm</tspan></text><text x="398" y="2229.8"><tspan font-style="italic">f</tspan>=0.2</text><text x="398" y="2326.3"><tspan font-style="italic">t/D</tspan><tspan font-style="italic" font-size="50" dy="17">i</tspan><tspan dy="-17">=1.4</tspan></text></g>
<g filter="url(#soft)"><rect x="723.6" y="2217.30" width="89.0" height="56.14" fill="#ff0000"/><rect x="723.6" y="2273.14" width="89.0" height="56.14" fill="#ff5d00"/><rect x="723.6" y="2328.98" width="89.0" height="56.14" fill="#ffb900"/><rect x="723.6" y="2384.83" width="89.0" height="56.14" fill="#e8ff00"/><rect x="723.6" y="2440.67" width="89.0" height="56.14" fill="#8bff00"/><rect x="723.6" y="2496.51" width="89.0" height="56.14" fill="#2eff00"/><rect x="723.6" y="2552.35" width="89.0" height="56.14" fill="#00ff2e"/><rect x="723.6" y="2608.19" width="89.0" height="56.14" fill="#00ff8b"/><rect x="723.6" y="2664.03" width="89.0" height="56.14" fill="#00ffe8"/><rect x="723.6" y="2719.88" width="89.0" height="56.14" fill="#00b9ff"/><rect x="723.6" y="2775.72" width="89.0" height="56.14" fill="#005dff"/><rect x="723.6" y="2831.56" width="89.0" height="56.14" fill="#0000ff"/><rect x="725.1" y="2217.3" width="86.0" height="670.1" fill="none" stroke="#000" stroke-opacity="0.42" stroke-width="5"/><rect x="722.6" y="2215.30" width="91.0" height="4" fill="#000" fill-opacity="0.5"/><rect x="812.6" y="2215.30" width="24.0" height="4" fill="#333" fill-opacity="0.8"/><rect x="722.6" y="2271.14" width="91.0" height="4" fill="#000" fill-opacity="0.5"/><rect x="812.6" y="2271.14" width="24.0" height="4" fill="#333" fill-opacity="0.8"/><rect x="722.6" y="2326.98" width="91.0" height="4" fill="#000" fill-opacity="0.5"/><rect x="812.6" y="2326.98" width="24.0" height="4" fill="#333" fill-opacity="0.8"/><rect x="722.6" y="2382.83" width="91.0" height="4" fill="#000" fill-opacity="0.5"/><rect x="812.6" y="2382.83" width="24.0" height="4" fill="#333" fill-opacity="0.8"/><rect x="722.6" y="2438.67" width="91.0" height="4" fill="#000" fill-opacity="0.5"/><rect x="812.6" y="2438.67" width="24.0" height="4" fill="#333" fill-opacity="0.8"/><rect x="722.6" y="2494.51" width="91.0" height="4" fill="#000" fill-opacity="0.5"/><rect x="812.6" y="2494.51" width="24.0" height="4" fill="#333" fill-opacity="0.8"/><rect x="722.6" y="2550.35" width="91.0" height="4" fill="#000" fill-opacity="0.5"/><rect x="812.6" y="2550.35" width="24.0" height="4" fill="#333" fill-opacity="0.8"/><rect x="722.6" y="2606.19" width="91.0" height="4" fill="#000" fill-opacity="0.5"/><rect x="812.6" y="2606.19" width="24.0" height="4" fill="#333" fill-opacity="0.8"/><rect x="722.6" y="2662.03" width="91.0" height="4" fill="#000" fill-opacity="0.5"/><rect x="812.6" y="2662.03" width="24.0" height="4" fill="#333" fill-opacity="0.8"/><rect x="722.6" y="2717.88" width="91.0" height="4" fill="#000" fill-opacity="0.5"/><rect x="812.6" y="2717.88" width="24.0" height="4" fill="#333" fill-opacity="0.8"/><rect x="722.6" y="2773.72" width="91.0" height="4" fill="#000" fill-opacity="0.5"/><rect x="812.6" y="2773.72" width="24.0" height="4" fill="#333" fill-opacity="0.8"/><rect x="722.6" y="2829.56" width="91.0" height="4" fill="#000" fill-opacity="0.5"/><rect x="812.6" y="2829.56" width="24.0" height="4" fill="#333" fill-opacity="0.8"/><rect x="722.6" y="2885.40" width="91.0" height="4" fill="#000" fill-opacity="0.5"/><rect x="812.6" y="2885.40" width="24.0" height="4" fill="#333" fill-opacity="0.8"/></g>
<g font-family='"Liberation Sans","DejaVu Sans",sans-serif' font-size="44.0" letter-spacing="4.70" fill="#1a1a1a" stroke="#1a1a1a" stroke-width="2.5" stroke-linejoin="round" filter="url(#soft2)"><text x="841.2" y="2233.3">+1.133<tspan dx="0.2">×</tspan><tspan dx="0.5">10</tspan><tspan font-size="31.7" letter-spacing="-0.6" dy="-10.4" dx="-0.7">0</tspan></text><text x="841.2" y="2288.5">+1.030<tspan dx="0.2">×</tspan><tspan dx="0.5">10</tspan><tspan font-size="31.7" letter-spacing="-0.6" dy="-10.4" dx="-0.7">0</tspan></text><text x="841.2" y="2343.7">+9.277<tspan dx="0.2">×</tspan><tspan dx="0.5">10</tspan><tspan font-size="31.7" letter-spacing="-0.6" dy="-10.4" dx="-0.7">-1</tspan></text><text x="841.2" y="2398.8">+8.252<tspan dx="0.2">×</tspan><tspan dx="0.5">10</tspan><tspan font-size="31.7" letter-spacing="-0.6" dy="-10.4" dx="-0.7">-1</tspan></text><text x="841.2" y="2454.0">+7.227<tspan dx="0.2">×</tspan><tspan dx="0.5">10</tspan><tspan font-size="31.7" letter-spacing="-0.6" dy="-10.4" dx="-0.7">-1</tspan></text><text x="841.2" y="2509.2">+6.202<tspan dx="0.2">×</tspan><tspan dx="0.5">10</tspan><tspan font-size="31.7" letter-spacing="-0.6" dy="-10.4" dx="-0.7">-1</tspan></text><text x="841.2" y="2564.3">+5.177<tspan dx="0.2">×</tspan><tspan dx="0.5">10</tspan><tspan font-size="31.7" letter-spacing="-0.6" dy="-10.4" dx="-0.7">-1</tspan></text><text x="841.2" y="2619.5">+4.152<tspan dx="0.2">×</tspan><tspan dx="0.5">10</tspan><tspan font-size="31.7" letter-spacing="-0.6" dy="-10.4" dx="-0.7">-1</tspan></text><text x="841.2" y="2674.7">+3.127<tspan dx="0.2">×</tspan><tspan dx="0.5">10</tspan><tspan font-size="31.7" letter-spacing="-0.6" dy="-10.4" dx="-0.7">-1</tspan></text><text x="841.2" y="2729.8">+2.102<tspan dx="0.2">×</tspan><tspan dx="0.5">10</tspan><tspan font-size="31.7" letter-spacing="-0.6" dy="-10.4" dx="-0.7">-1</tspan></text><text x="841.2" y="2785.0">+1.077<tspan dx="0.2">×</tspan><tspan dx="0.5">10</tspan><tspan font-size="31.7" letter-spacing="-0.6" dy="-10.4" dx="-0.7">-1</tspan></text><text x="841.2" y="2840.2">+5.207<tspan dx="0.2">×</tspan><tspan dx="0.5">10</tspan><tspan font-size="31.7" letter-spacing="-0.6" dy="-10.4" dx="-0.7">-3</tspan></text><text x="841.2" y="2895.3">-9.729<tspan dx="0.2">×</tspan><tspan dx="0.5">10</tspan><tspan font-size="31.7" letter-spacing="-0.6" dy="-10.4" dx="-0.7">-2</tspan></text></g>
<text y="2195.9" font-family='"Liberation Serif","DejaVu Serif",serif' font-weight="700" font-size="43" fill="#000"><tspan x="724.0">SDV</tspan><tspan x="815.5">1</tspan></text>
<g filter="url(#soft)"><rect x="300.8" y="2897.20" width="90.7" height="55.46" fill="#ff0000"/><rect x="300.8" y="2952.36" width="90.7" height="55.46" fill="#ff5d00"/><rect x="300.8" y="3007.52" width="90.7" height="55.46" fill="#ffb900"/><rect x="300.8" y="3062.67" width="90.7" height="55.46" fill="#e8ff00"/><rect x="300.8" y="3117.83" width="90.7" height="55.46" fill="#8bff00"/><rect x="300.8" y="3172.99" width="90.7" height="55.46" fill="#2eff00"/><rect x="300.8" y="3228.15" width="90.7" height="55.46" fill="#00ff2e"/><rect x="300.8" y="3283.31" width="90.7" height="55.46" fill="#00ff8b"/><rect x="300.8" y="3338.47" width="90.7" height="55.46" fill="#00ffe8"/><rect x="300.8" y="3393.62" width="90.7" height="55.46" fill="#00b9ff"/><rect x="300.8" y="3448.78" width="90.7" height="55.46" fill="#005dff"/><rect x="300.8" y="3503.94" width="90.7" height="55.46" fill="#0000ff"/><rect x="302.3" y="2897.2" width="87.7" height="661.9" fill="none" stroke="#000" stroke-opacity="0.42" stroke-width="5"/><rect x="299.8" y="2895.20" width="92.7" height="4" fill="#000" fill-opacity="0.5"/><rect x="391.5" y="2895.20" width="21.8" height="4" fill="#333" fill-opacity="0.8"/><rect x="299.8" y="2950.36" width="92.7" height="4" fill="#000" fill-opacity="0.5"/><rect x="391.5" y="2950.36" width="21.8" height="4" fill="#333" fill-opacity="0.8"/><rect x="299.8" y="3005.52" width="92.7" height="4" fill="#000" fill-opacity="0.5"/><rect x="391.5" y="3005.52" width="21.8" height="4" fill="#333" fill-opacity="0.8"/><rect x="299.8" y="3060.67" width="92.7" height="4" fill="#000" fill-opacity="0.5"/><rect x="391.5" y="3060.67" width="21.8" height="4" fill="#333" fill-opacity="0.8"/><rect x="299.8" y="3115.83" width="92.7" height="4" fill="#000" fill-opacity="0.5"/><rect x="391.5" y="3115.83" width="21.8" height="4" fill="#333" fill-opacity="0.8"/><rect x="299.8" y="3170.99" width="92.7" height="4" fill="#000" fill-opacity="0.5"/><rect x="391.5" y="3170.99" width="21.8" height="4" fill="#333" fill-opacity="0.8"/><rect x="299.8" y="3226.15" width="92.7" height="4" fill="#000" fill-opacity="0.5"/><rect x="391.5" y="3226.15" width="21.8" height="4" fill="#333" fill-opacity="0.8"/><rect x="299.8" y="3281.31" width="92.7" height="4" fill="#000" fill-opacity="0.5"/><rect x="391.5" y="3281.31" width="21.8" height="4" fill="#333" fill-opacity="0.8"/><rect x="299.8" y="3336.47" width="92.7" height="4" fill="#000" fill-opacity="0.5"/><rect x="391.5" y="3336.47" width="21.8" height="4" fill="#333" fill-opacity="0.8"/><rect x="299.8" y="3391.62" width="92.7" height="4" fill="#000" fill-opacity="0.5"/><rect x="391.5" y="3391.62" width="21.8" height="4" fill="#333" fill-opacity="0.8"/><rect x="299.8" y="3446.78" width="92.7" height="4" fill="#000" fill-opacity="0.5"/><rect x="391.5" y="3446.78" width="21.8" height="4" fill="#333" fill-opacity="0.8"/><rect x="299.8" y="3501.94" width="92.7" height="4" fill="#000" fill-opacity="0.5"/><rect x="391.5" y="3501.94" width="21.8" height="4" fill="#333" fill-opacity="0.8"/><rect x="299.8" y="3557.10" width="92.7" height="4" fill="#000" fill-opacity="0.5"/><rect x="391.5" y="3557.10" width="21.8" height="4" fill="#333" fill-opacity="0.8"/></g>
<g font-family='"Liberation Sans","DejaVu Sans",sans-serif' font-size="42.5" letter-spacing="5.01" fill="#1a1a1a" stroke="#1a1a1a" stroke-width="2.5" stroke-linejoin="round" filter="url(#soft2)"><text x="419.5" y="2913.3">+2.527<tspan dx="0.3">×</tspan><tspan dx="0.5">10</tspan><tspan font-size="30.6" letter-spacing="-0.6" dy="-10.1" dx="-0.8">-1</tspan></text><text x="419.5" y="2967.9">+2.279<tspan dx="0.3">×</tspan><tspan dx="0.5">10</tspan><tspan font-size="30.6" letter-spacing="-0.6" dy="-10.1" dx="-0.8">-1</tspan></text><text x="419.5" y="3022.6">+2.032<tspan dx="0.3">×</tspan><tspan dx="0.5">10</tspan><tspan font-size="30.6" letter-spacing="-0.6" dy="-10.1" dx="-0.8">-1</tspan></text><text x="419.5" y="3077.2">+1.785<tspan dx="0.3">×</tspan><tspan dx="0.5">10</tspan><tspan font-size="30.6" letter-spacing="-0.6" dy="-10.1" dx="-0.8">-1</tspan></text><text x="419.5" y="3131.8">+1.538<tspan dx="0.3">×</tspan><tspan dx="0.5">10</tspan><tspan font-size="30.6" letter-spacing="-0.6" dy="-10.1" dx="-0.8">-1</tspan></text><text x="419.5" y="3186.4">+1.290<tspan dx="0.3">×</tspan><tspan dx="0.5">10</tspan><tspan font-size="30.6" letter-spacing="-0.6" dy="-10.1" dx="-0.8">-1</tspan></text><text x="419.5" y="3241.1">+1.043<tspan dx="0.3">×</tspan><tspan dx="0.5">10</tspan><tspan font-size="30.6" letter-spacing="-0.6" dy="-10.1" dx="-0.8">-1</tspan></text><text x="419.5" y="3295.7">+7.957<tspan dx="0.3">×</tspan><tspan dx="0.5">10</tspan><tspan font-size="30.6" letter-spacing="-0.6" dy="-10.1" dx="-0.8">-2</tspan></text><text x="419.5" y="3350.3">+5.484<tspan dx="0.3">×</tspan><tspan dx="0.5">10</tspan><tspan font-size="30.6" letter-spacing="-0.6" dy="-10.1" dx="-0.8">-2</tspan></text><text x="419.5" y="3404.9">+3.012<tspan dx="0.3">×</tspan><tspan dx="0.5">10</tspan><tspan font-size="30.6" letter-spacing="-0.6" dy="-10.1" dx="-0.8">-2</tspan></text><text x="419.5" y="3459.6">+5.388<tspan dx="0.3">×</tspan><tspan dx="0.5">10</tspan><tspan font-size="30.6" letter-spacing="-0.6" dy="-10.1" dx="-0.8">-3</tspan></text><text x="419.5" y="3514.2">-1.934<tspan dx="0.3">×</tspan><tspan dx="0.5">10</tspan><tspan font-size="30.6" letter-spacing="-0.6" dy="-10.1" dx="-0.8">-2</tspan></text><text x="419.5" y="3568.8">-4.407<tspan dx="0.3">×</tspan><tspan dx="0.5">10</tspan><tspan font-size="30.6" letter-spacing="-0.6" dy="-10.1" dx="-0.8">-2</tspan></text></g>
<text y="2866.7" font-family='"Liberation Serif","DejaVu Serif",serif' font-weight="700" font-size="43" fill="#000"><tspan x="302.0">SDV</tspan><tspan x="394.0">1</tspan></text>
<line x1="1731.0" y1="2432.4" x2="1851.3" y2="2360.2" stroke="#000" stroke-width="7"/>
<polygon points="1897.6,2332.4 1854.6,2373.4 1841.2,2351.1" fill="#000"/>
<line x1="1401.7" y1="3248.3" x2="1615.7" y2="3265.2" stroke="#000" stroke-width="6.5"/>
<polygon points="1667.5,3269.3 1610.6,3278.8 1612.8,3250.9" fill="#000"/>
<path clip-path="url(#clipB)" fill="#f00" d="M252.0 3656.0l13.6 23.4h-27.2zM255.0 3655.6l13.6 23.4h-27.2zM258.0 3655.3l13.6 23.4h-27.2zM260.9 3654.9l13.6 23.4h-27.2zM263.9 3654.5l13.6 23.4h-27.2zM266.9 3654.2l13.6 23.4h-27.2zM269.9 3653.8l13.6 23.4h-27.2zM272.8 3653.4l13.6 23.4h-27.2zM275.8 3653.0l13.6 23.4h-27.2zM278.8 3652.7l13.6 23.4h-27.2zM281.8 3652.3l13.6 23.4h-27.2zM284.7 3651.9l13.6 23.4h-27.2zM287.7 3651.5l13.6 23.4h-27.2zM290.7 3651.1l13.6 23.4h-27.2zM293.7 3650.8l13.6 23.4h-27.2zM296.6 3650.4l13.6 23.4h-27.2zM299.6 3650.0l13.6 23.4h-27.2zM302.6 3649.6l13.6 23.4h-27.2zM305.6 3649.2l13.6 23.4h-27.2zM308.5 3648.8l13.6 23.4h-27.2zM311.5 3648.4l13.6 23.4h-27.2zM314.5 3648.0l13.6 23.4h-27.2zM317.5 3647.7l13.6 23.4h-27.2zM320.4 3647.3l13.6 23.4h-27.2zM323.4 3646.9l13.6 23.4h-27.2zM326.4 3646.5l13.6 23.4h-27.2zM329.4 3646.1l13.6 23.4h-27.2zM332.3 3645.7l13.6 23.4h-27.2zM335.3 3645.3l13.6 23.4h-27.2zM338.3 3644.9l13.6 23.4h-27.2zM341.3 3644.5l13.6 23.4h-27.2zM344.2 3644.1l13.6 23.4h-27.2zM347.2 3643.7l13.6 23.4h-27.2zM350.2 3643.3l13.6 23.4h-27.2zM353.2 3642.9l13.6 23.4h-27.2zM356.1 3642.5l13.6 23.4h-27.2zM359.1 3642.0l13.6 23.4h-27.2zM362.1 3641.6l13.6 23.4h-27.2zM365.0 3641.2l13.6 23.4h-27.2zM368.0 3640.8l13.6 23.4h-27.2zM371.0 3640.4l13.6 23.4h-27.2zM374.0 3640.0l13.6 23.4h-27.2zM376.9 3639.6l13.6 23.4h-27.2zM379.9 3639.2l13.6 23.4h-27.2zM382.9 3638.7l13.6 23.4h-27.2zM385.8 3638.3l13.6 23.4h-27.2zM388.8 3637.9l13.6 23.4h-27.2zM391.8 3637.5l13.6 23.4h-27.2zM394.7 3637.1l13.6 23.4h-27.2zM397.7 3636.6l13.6 23.4h-27.2zM400.7 3636.2l13.6 23.4h-27.2zM403.7 3635.8l13.6 23.4h-27.2zM406.6 3635.4l13.6 23.4h-27.2zM409.6 3634.9l13.6 23.4h-27.2zM412.6 3634.5l13.6 23.4h-27.2zM415.5 3634.1l13.6 23.4h-27.2zM418.5 3633.6l13.6 23.4h-27.2zM421.5 3633.2l13.6 23.4h-27.2zM424.4 3632.8l13.6 23.4h-27.2zM427.4 3632.3l13.6 23.4h-27.2zM430.4 3631.9l13.6 23.4h-27.2zM433.3 3631.5l13.6 23.4h-27.2zM436.3 3631.0l13.6 23.4h-27.2zM439.3 3630.6l13.6 23.4h-27.2zM442.2 3630.1l13.6 23.4h-27.2zM445.2 3629.7l13.6 23.4h-27.2zM448.2 3629.3l13.6 23.4h-27.2zM451.2 3628.8l13.6 23.4h-27.2zM454.1 3628.4l13.6 23.4h-27.2zM457.1 3627.9l13.6 23.4h-27.2zM460.1 3627.5l13.6 23.4h-27.2zM463.0 3627.0l13.6 23.4h-27.2zM466.0 3626.6l13.6 23.4h-27.2zM468.9 3626.1l13.6 23.4h-27.2zM471.9 3625.7l13.6 23.4h-27.2zM474.9 3625.2l13.6 23.4h-27.2zM477.8 3624.7l13.6 23.4h-27.2zM480.8 3624.3l13.6 23.4h-27.2zM483.8 3623.8l13.6 23.4h-27.2zM486.7 3623.4l13.6 23.4h-27.2zM489.7 3622.9l13.6 23.4h-27.2zM492.7 3622.4l13.6 23.4h-27.2zM495.6 3622.0l13.6 23.4h-27.2zM498.6 3621.5l13.6 23.4h-27.2zM501.6 3621.1l13.6 23.4h-27.2zM504.5 3620.6l13.6 23.4h-27.2zM507.5 3620.1l13.6 23.4h-27.2zM510.4 3619.6l13.6 23.4h-27.2zM513.4 3619.2l13.6 23.4h-27.2zM516.4 3618.7l13.6 23.4h-27.2zM519.3 3618.2l13.6 23.4h-27.2zM522.3 3617.8l13.6 23.4h-27.2zM525.3 3617.3l13.6 23.4h-27.2zM528.2 3616.8l13.6 23.4h-27.2zM531.2 3616.3l13.6 23.4h-27.2zM534.1 3615.8l13.6 23.4h-27.2zM537.1 3615.4l13.6 23.4h-27.2zM540.1 3614.9l13.6 23.4h-27.2zM543.0 3614.4l13.6 23.4h-27.2zM546.0 3613.9l13.6 23.4h-27.2zM549.0 3613.4l13.6 23.4h-27.2zM551.9 3612.9l13.6 23.4h-27.2zM554.9 3612.5l13.6 23.4h-27.2zM557.8 3612.0l13.6 23.4h-27.2zM560.8 3611.5l13.6 23.4h-27.2zM563.8 3611.0l13.6 23.4h-27.2zM566.7 3610.5l13.6 23.4h-27.2zM569.7 3610.0l13.6 23.4h-27.2zM572.6 3609.5l13.6 23.4h-27.2zM575.6 3609.0l13.6 23.4h-27.2zM578.5 3608.5l13.6 23.4h-27.2zM581.5 3608.0l13.6 23.4h-27.2zM584.5 3607.5l13.6 23.4h-27.2zM587.4 3607.0l13.6 23.4h-27.2zM590.4 3606.5l13.6 23.4h-27.2zM593.3 3606.0l13.6 23.4h-27.2zM596.3 3605.5l13.6 23.4h-27.2zM599.2 3605.0l13.6 23.4h-27.2zM602.2 3604.5l13.6 23.4h-27.2zM605.2 3604.0l13.6 23.4h-27.2zM608.1 3603.5l13.6 23.4h-27.2zM611.1 3602.9l13.6 23.4h-27.2zM614.0 3602.4l13.6 23.4h-27.2zM617.0 3601.9l13.6 23.4h-27.2zM619.9 3601.4l13.6 23.4h-27.2zM622.9 3600.9l13.6 23.4h-27.2zM625.9 3600.4l13.6 23.4h-27.2zM628.8 3599.8l13.6 23.4h-27.2zM631.8 3599.3l13.6 23.4h-27.2zM634.7 3598.8l13.6 23.4h-27.2zM637.7 3598.3l13.6 23.4h-27.2zM640.6 3597.8l13.6 23.4h-27.2zM643.6 3597.2l13.6 23.4h-27.2zM646.5 3596.7l13.6 23.4h-27.2zM649.5 3596.2l13.6 23.4h-27.2zM652.4 3595.6l13.6 23.4h-27.2zM655.4 3595.1l13.6 23.4h-27.2zM658.3 3594.6l13.6 23.4h-27.2zM661.3 3594.1l13.6 23.4h-27.2zM664.2 3593.5l13.6 23.4h-27.2zM667.2 3593.0l13.6 23.4h-27.2zM670.2 3592.4l13.6 23.4h-27.2zM673.1 3591.9l13.6 23.4h-27.2zM676.1 3591.4l13.6 23.4h-27.2zM679.0 3590.8l13.6 23.4h-27.2zM682.0 3590.3l13.6 23.4h-27.2zM684.9 3589.7l13.6 23.4h-27.2zM687.9 3589.2l13.6 23.4h-27.2zM690.8 3588.6l13.6 23.4h-27.2zM693.8 3588.1l13.6 23.4h-27.2zM696.7 3587.6l13.6 23.4h-27.2zM699.7 3587.0l13.6 23.4h-27.2zM702.6 3586.5l13.6 23.4h-27.2zM705.6 3585.9l13.6 23.4h-27.2zM708.5 3585.3l13.6 23.4h-27.2zM711.4 3584.8l13.6 23.4h-27.2zM714.4 3584.2l13.6 23.4h-27.2zM717.3 3583.7l13.6 23.4h-27.2zM720.3 3583.1l13.6 23.4h-27.2zM723.2 3582.6l13.6 23.4h-27.2zM726.2 3582.0l13.6 23.4h-27.2zM729.1 3581.4l13.6 23.4h-27.2zM732.1 3580.9l13.6 23.4h-27.2zM735.0 3580.3l13.6 23.4h-27.2zM738.0 3579.7l13.6 23.4h-27.2zM740.9 3579.2l13.6 23.4h-27.2zM743.9 3578.6l13.6 23.4h-27.2zM746.8 3578.0l13.6 23.4h-27.2zM749.8 3577.5l13.6 23.4h-27.2zM752.7 3576.9l13.6 23.4h-27.2zM755.6 3576.3l13.6 23.4h-27.2zM758.6 3575.7l13.6 23.4h-27.2zM761.5 3575.2l13.6 23.4h-27.2zM764.5 3574.6l13.6 23.4h-27.2zM767.4 3574.0l13.6 23.4h-27.2zM770.4 3573.4l13.6 23.4h-27.2zM773.3 3572.8l13.6 23.4h-27.2zM776.3 3572.3l13.6 23.4h-27.2zM779.2 3571.7l13.6 23.4h-27.2zM782.1 3571.1l13.6 23.4h-27.2zM785.1 3570.5l13.6 23.4h-27.2zM788.0 3569.9l13.6 23.4h-27.2zM791.0 3569.3l13.6 23.4h-27.2zM793.9 3568.7l13.6 23.4h-27.2zM796.8 3568.1l13.6 23.4h-27.2zM799.8 3567.5l13.6 23.4h-27.2zM802.7 3567.0l13.6 23.4h-27.2zM805.7 3566.4l13.6 23.4h-27.2zM808.6 3565.8l13.6 23.4h-27.2zM811.5 3565.2l13.6 23.4h-27.2zM814.5 3564.6l13.6 23.4h-27.2zM817.4 3564.0l13.6 23.4h-27.2zM820.4 3563.4l13.6 23.4h-27.2zM823.3 3562.8l13.6 23.4h-27.2zM826.2 3562.1l13.6 23.4h-27.2zM829.2 3561.5l13.6 23.4h-27.2zM832.1 3560.9l13.6 23.4h-27.2zM835.1 3560.3l13.6 23.4h-27.2zM838.0 3559.7l13.6 23.4h-27.2zM840.9 3559.1l13.6 23.4h-27.2zM843.9 3558.5l13.6 23.4h-27.2zM846.8 3557.9l13.6 23.4h-27.2zM849.7 3557.3l13.6 23.4h-27.2zM852.7 3556.6l13.6 23.4h-27.2zM855.6 3556.0l13.6 23.4h-27.2zM858.5 3555.4l13.6 23.4h-27.2zM861.5 3554.8l13.6 23.4h-27.2zM864.4 3554.2l13.6 23.4h-27.2zM867.3 3553.5l13.6 23.4h-27.2zM870.3 3552.9l13.6 23.4h-27.2zM873.2 3552.3l13.6 23.4h-27.2zM876.2 3551.7l13.6 23.4h-27.2zM879.1 3551.0l13.6 23.4h-27.2zM882.0 3550.4l13.6 23.4h-27.2zM885.0 3549.8l13.6 23.4h-27.2zM887.9 3549.1l13.6 23.4h-27.2zM890.8 3548.5l13.6 23.4h-27.2zM893.7 3547.9l13.6 23.4h-27.2zM896.7 3547.2l13.6 23.4h-27.2zM899.6 3546.6l13.6 23.4h-27.2zM902.5 3546.0l13.6 23.4h-27.2zM905.5 3545.3l13.6 23.4h-27.2zM908.4 3544.7l13.6 23.4h-27.2zM911.3 3544.0l13.6 23.4h-27.2zM914.3 3543.4l13.6 23.4h-27.2zM917.2 3542.7l13.6 23.4h-27.2zM920.1 3542.1l13.6 23.4h-27.2zM923.1 3541.4l13.6 23.4h-27.2zM926.0 3540.8l13.6 23.4h-27.2zM928.9 3540.1l13.6 23.4h-27.2zM931.8 3539.5l13.6 23.4h-27.2zM934.8 3538.8l13.6 23.4h-27.2zM937.7 3538.2l13.6 23.4h-27.2zM940.6 3537.5l13.6 23.4h-27.2zM943.5 3536.9l13.6 23.4h-27.2zM946.5 3536.2l13.6 23.4h-27.2zM949.4 3535.5l13.6 23.4h-27.2zM952.3 3534.9l13.6 23.4h-27.2zM955.3 3534.2l13.6 23.4h-27.2zM958.2 3533.6l13.6 23.4h-27.2zM961.1 3532.9l13.6 23.4h-27.2zM964.0 3532.2l13.6 23.4h-27.2zM967.0 3531.6l13.6 23.4h-27.2zM969.9 3530.9l13.6 23.4h-27.2zM972.8 3530.2l13.6 23.4h-27.2zM975.7 3529.5l13.6 23.4h-27.2zM978.7 3528.9l13.6 23.4h-27.2zM981.6 3528.2l13.6 23.4h-27.2zM984.5 3527.5l13.6 23.4h-27.2zM987.4 3526.8l13.6 23.4h-27.2zM990.3 3526.2l13.6 23.4h-27.2zM993.3 3525.5l13.6 23.4h-27.2zM996.2 3524.8l13.6 23.4h-27.2zM999.1 3524.1l13.6 23.4h-27.2zM1002.0 3523.4l13.6 23.4h-27.2zM1004.9 3522.7l13.6 23.4h-27.2zM1007.9 3522.1l13.6 23.4h-27.2zM1010.8 3521.4l13.6 23.4h-27.2zM1013.7 3520.7l13.6 23.4h-27.2zM1016.6 3520.0l13.6 23.4h-27.2zM1019.5 3519.3l13.6 23.4h-27.2zM1022.5 3518.6l13.6 23.4h-27.2zM1025.4 3517.9l13.6 23.4h-27.2zM1028.3 3517.2l13.6 23.4h-27.2zM1031.2 3516.5l13.6 23.4h-27.2zM1034.1 3515.8l13.6 23.4h-27.2zM1037.1 3515.1l13.6 23.4h-27.2zM1040.0 3514.4l13.6 23.4h-27.2zM1042.9 3513.7l13.6 23.4h-27.2zM1045.8 3513.0l13.6 23.4h-27.2zM1048.7 3512.3l13.6 23.4h-27.2zM1051.6 3511.6l13.6 23.4h-27.2zM1054.6 3510.9l13.6 23.4h-27.2zM1057.5 3510.2l13.6 23.4h-27.2zM1060.4 3509.5l13.6 23.4h-27.2zM1063.3 3508.7l13.6 23.4h-27.2zM1066.2 3508.0l13.6 23.4h-27.2zM1069.1 3507.3l13.6 23.4h-27.2zM1072.0 3506.6l13.6 23.4h-27.2zM1074.9 3505.9l13.6 23.4h-27.2zM1077.9 3505.2l13.6 23.4h-27.2zM1080.8 3504.4l13.6 23.4h-27.2zM1083.7 3503.7l13.6 23.4h-27.2zM1086.6 3503.0l13.6 23.4h-27.2zM1089.5 3502.3l13.6 23.4h-27.2zM1092.4 3501.5l13.6 23.4h-27.2zM1095.3 3500.8l13.6 23.4h-27.2zM1098.2 3500.1l13.6 23.4h-27.2zM1101.1 3499.4l13.6 23.4h-27.2zM1104.1 3498.6l13.6 23.4h-27.2zM1107.0 3497.9l13.6 23.4h-27.2zM1109.9 3497.1l13.6 23.4h-27.2zM1112.8 3496.4l13.6 23.4h-27.2zM1115.7 3495.7l13.6 23.4h-27.2zM1118.6 3494.9l13.6 23.4h-27.2zM1121.5 3494.2l13.6 23.4h-27.2zM1124.4 3493.4l13.6 23.4h-27.2zM1127.3 3492.7l13.6 23.4h-27.2zM1130.2 3491.9l13.6 23.4h-27.2zM1133.1 3491.2l13.6 23.4h-27.2zM1136.0 3490.4l13.6 23.4h-27.2zM1138.9 3489.7l13.6 23.4h-27.2zM1141.8 3488.9l13.6 23.4h-27.2zM1144.7 3488.2l13.6 23.4h-27.2zM1147.6 3487.4l13.6 23.4h-27.2zM1150.5 3486.6l13.6 23.4h-27.2zM1153.4 3485.9l13.6 23.4h-27.2zM1156.3 3485.1l13.6 23.4h-27.2zM1159.2 3484.3l13.6 23.4h-27.2zM1162.1 3483.6l13.6 23.4h-27.2zM1165.0 3482.8l13.6 23.4h-27.2zM1167.9 3482.0l13.6 23.4h-27.2zM1170.8 3481.2l13.6 23.4h-27.2zM1173.7 3480.4l13.6 23.4h-27.2zM1176.6 3479.7l13.6 23.4h-27.2zM1179.5 3478.9l13.6 23.4h-27.2zM1182.4 3478.1l13.6 23.4h-27.2zM1185.3 3477.3l13.6 23.4h-27.2zM1188.2 3476.5l13.6 23.4h-27.2zM1191.1 3475.7l13.6 23.4h-27.2zM1194.0 3474.9l13.6 23.4h-27.2zM1196.9 3474.1l13.6 23.4h-27.2zM1199.8 3473.3l13.6 23.4h-27.2zM1202.7 3472.5l13.6 23.4h-27.2zM1205.6 3471.7l13.6 23.4h-27.2zM1208.4 3470.9l13.6 23.4h-27.2zM1211.3 3470.1l13.6 23.4h-27.2zM1214.2 3469.2l13.6 23.4h-27.2zM1217.1 3468.4l13.6 23.4h-27.2zM1220.0 3467.6l13.6 23.4h-27.2zM1222.9 3466.8l13.6 23.4h-27.2zM1225.8 3465.9l13.6 23.4h-27.2zM1228.6 3465.1l13.6 23.4h-27.2zM1231.5 3464.3l13.6 23.4h-27.2zM1234.4 3463.4l13.6 23.4h-27.2zM1237.3 3462.6l13.6 23.4h-27.2zM1240.2 3461.8l13.6 23.4h-27.2zM1243.0 3460.9l13.6 23.4h-27.2zM1245.9 3460.1l13.6 23.4h-27.2zM1248.8 3459.2l13.6 23.4h-27.2zM1251.7 3458.4l13.6 23.4h-27.2zM1254.5 3457.5l13.6 23.4h-27.2zM1257.4 3456.6l13.6 23.4h-27.2zM1260.3 3455.8l13.6 23.4h-27.2zM1263.2 3454.9l13.6 23.4h-27.2zM1266.0 3454.0l13.6 23.4h-27.2zM1268.9 3453.2l13.6 23.4h-27.2zM1271.8 3452.3l13.6 23.4h-27.2zM1274.6 3451.4l13.6 23.4h-27.2zM1277.5 3450.5l13.6 23.4h-27.2zM1280.4 3449.6l13.6 23.4h-27.2zM1283.2 3448.7l13.6 23.4h-27.2zM1286.1 3447.8l13.6 23.4h-27.2zM1289.0 3446.9l13.6 23.4h-27.2zM1291.8 3446.0l13.6 23.4h-27.2zM1294.7 3445.1l13.6 23.4h-27.2zM1297.5 3444.2l13.6 23.4h-27.2zM1300.4 3443.3l13.6 23.4h-27.2zM1303.3 3442.4l13.6 23.4h-27.2zM1306.1 3441.5l13.6 23.4h-27.2zM1309.0 3440.6l13.6 23.4h-27.2zM1311.8 3439.6l13.6 23.4h-27.2zM1314.7 3438.7l13.6 23.4h-27.2zM1317.5 3437.8l13.6 23.4h-27.2zM1320.4 3436.8l13.6 23.4h-27.2zM1323.2 3435.9l13.6 23.4h-27.2zM1326.1 3434.9l13.6 23.4h-27.2zM1328.9 3434.0l13.6 23.4h-27.2zM1331.8 3433.0l13.6 23.4h-27.2zM1334.6 3432.1l13.6 23.4h-27.2zM1337.5 3431.1l13.6 23.4h-27.2zM1340.3 3430.2l13.6 23.4h-27.2zM1343.1 3429.2l13.6 23.4h-27.2zM1346.0 3428.2l13.6 23.4h-27.2zM1348.8 3427.3l13.6 23.4h-27.2zM1351.6 3426.1l13.6 23.4h-27.2zM1354.4 3424.9l13.6 23.4h-27.2zM1357.1 3423.8l13.6 23.4h-27.2zM1359.9 3422.6l13.6 23.4h-27.2zM1362.7 3421.4l13.6 23.4h-27.2zM1365.4 3420.2l13.6 23.4h-27.2zM1368.2 3419.0l13.6 23.4h-27.2zM1370.9 3417.8l13.6 23.4h-27.2zM1373.7 3416.6l13.6 23.4h-27.2zM1376.4 3415.4l13.6 23.4h-27.2zM1379.2 3414.2l13.6 23.4h-27.2zM1381.9 3413.0l13.6 23.4h-27.2zM1384.6 3412.5l13.6 23.4h-27.2zM1387.6 3412.5l13.6 23.4h-27.2zM1390.6 3412.5l13.6 23.4h-27.2zM1393.6 3412.5l13.6 23.4h-27.2zM1396.6 3412.5l13.6 23.4h-27.2zM1399.6 3412.5l13.6 23.4h-27.2zM1402.6 3412.5l13.6 23.4h-27.2zM1405.6 3412.4l13.6 23.4h-27.2zM1408.3 3411.0l13.6 23.4h-27.2zM1410.9 3409.6l13.6 23.4h-27.2zM1413.6 3408.2l13.6 23.4h-27.2zM1416.2 3406.7l13.6 23.4h-27.2zM1418.9 3405.3l13.6 23.4h-27.2zM1421.5 3403.8l13.6 23.4h-27.2zM1424.1 3402.4l13.6 23.4h-27.2zM1426.7 3400.9l13.6 23.4h-27.2zM1429.4 3399.5l13.6 23.4h-27.2zM1432.0 3398.0l13.6 23.4h-27.2zM1434.6 3396.5l13.6 23.4h-27.2zM1437.2 3395.0l13.6 23.4h-27.2zM1439.8 3393.6l13.6 23.4h-27.2zM1442.6 3392.4l13.6 23.4h-27.2zM1445.4 3391.3l13.6 23.4h-27.2zM1448.1 3390.2l13.6 23.4h-27.2zM1450.9 3389.1l13.6 23.4h-27.2zM1453.7 3387.9l13.6 23.4h-27.2zM1456.5 3386.8l13.6 23.4h-27.2zM1459.2 3385.6l13.6 23.4h-27.2zM1462.0 3384.5l13.6 23.4h-27.2zM1464.8 3383.3l13.6 23.4h-27.2zM1467.5 3382.2l13.6 23.4h-27.2zM1470.3 3381.0l13.6 23.4h-27.2zM1473.1 3379.8l13.6 23.4h-27.2zM1475.8 3378.7l13.6 23.4h-27.2zM1478.6 3377.5l13.6 23.4h-27.2zM1481.3 3376.3l13.6 23.4h-27.2zM1484.1 3375.1l13.6 23.4h-27.2zM1486.8 3373.9l13.6 23.4h-27.2zM1489.6 3372.7l13.6 23.4h-27.2zM1492.3 3371.5l13.6 23.4h-27.2zM1495.1 3370.1l13.6 23.4h-27.2zM1497.7 3368.7l13.6 23.4h-27.2zM1500.4 3367.3l13.6 23.4h-27.2zM1503.1 3365.9l13.6 23.4h-27.2zM1505.7 3364.5l13.6 23.4h-27.2zM1508.4 3363.1l13.6 23.4h-27.2zM1511.0 3361.6l13.6 23.4h-27.2zM1513.6 3360.2l13.6 23.4h-27.2zM1516.3 3358.8l13.6 23.4h-27.2zM1518.9 3357.3l13.6 23.4h-27.2zM1521.5 3355.9l13.6 23.4h-27.2zM1524.1 3354.4l13.6 23.4h-27.2zM1526.8 3352.9l13.6 23.4h-27.2zM1529.7 3352.8l13.6 23.4h-27.2zM1532.7 3352.8l13.6 23.4h-27.2zM1535.7 3352.8l13.6 23.4h-27.2zM1538.7 3352.8l13.6 23.4h-27.2zM1541.7 3352.8l13.6 23.4h-27.2zM1544.7 3352.8l13.6 23.4h-27.2zM1547.7 3352.0l13.6 23.4h-27.2zM1550.1 3350.3l13.6 23.4h-27.2zM1552.6 3348.6l13.6 23.4h-27.2zM1555.1 3346.9l13.6 23.4h-27.2zM1557.5 3345.2l13.6 23.4h-27.2zM1560.0 3343.4l13.6 23.4h-27.2zM1562.4 3341.7l13.6 23.4h-27.2zM1564.8 3339.9l13.6 23.4h-27.2zM1567.3 3338.1l13.6 23.4h-27.2zM1569.7 3336.4l13.6 23.4h-27.2zM1572.1 3334.6l13.6 23.4h-27.2zM1574.5 3332.8l13.6 23.4h-27.2zM1576.9 3331.0l13.6 23.4h-27.2zM1579.3 3329.2l13.6 23.4h-27.2zM1581.7 3327.6l13.6 23.4h-27.2zM1584.3 3326.2l13.6 23.4h-27.2zM1587.0 3324.7l13.6 23.4h-27.2zM1589.6 3323.3l13.6 23.4h-27.2zM1592.2 3321.8l13.6 23.4h-27.2zM1594.8 3320.4l13.6 23.4h-27.2zM1597.5 3318.9l13.6 23.4h-27.2zM1600.1 3317.4l13.6 23.4h-27.2zM1602.7 3315.9l13.6 23.4h-27.2zM1605.3 3314.4l13.6 23.4h-27.2zM1607.9 3312.9l13.6 23.4h-27.2zM1610.5 3311.4l13.6 23.4h-27.2zM1613.1 3309.9l13.6 23.4h-27.2zM1615.7 3308.4l13.6 23.4h-27.2zM1618.2 3306.9l13.6 23.4h-27.2zM1620.8 3305.3l13.6 23.4h-27.2zM1623.4 3303.8l13.6 23.4h-27.2zM1626.0 3302.2l13.6 23.4h-27.2zM1628.5 3300.7l13.6 23.4h-27.2zM1631.1 3299.1l13.6 23.4h-27.2zM1633.7 3297.4l13.6 23.4h-27.2zM1635.9 3295.4l13.6 23.4h-27.2zM1638.2 3293.5l13.6 23.4h-27.2zM1640.5 3291.5l13.6 23.4h-27.2zM1642.7 3289.5l13.6 23.4h-27.2zM1645.0 3287.5l13.6 23.4h-27.2zM1647.2 3285.5l13.6 23.4h-27.2zM1649.4 3283.5l13.6 23.4h-27.2zM1651.6 3281.4l13.6 23.4h-27.2zM1653.4 3279.8l13.6 23.4h-27.2zM1655.2 3278.2l13.6 23.4h-27.2zM1656.9 3276.6l13.6 23.4h-27.2zM1658.7 3274.9l13.6 23.4h-27.2zM1660.4 3273.3l13.6 23.4h-27.2zM1662.2 3271.6l13.6 23.4h-27.2zM1663.9 3270.0l13.6 23.4h-27.2zM1665.7 3268.3l13.6 23.4h-27.2zM1667.4 3267.0l13.6 23.4h-27.2zM1669.8 3267.0l13.6 23.4h-27.2zM1672.2 3267.0l13.6 23.4h-27.2zM1674.6 3267.0l13.6 23.4h-27.2zM1677.0 3267.0l13.6 23.4h-27.2zM1679.4 3267.0l13.6 23.4h-27.2zM1681.8 3267.0l13.6 23.4h-27.2zM1684.2 3267.0l13.6 23.4h-27.2zM1686.6 3267.0l13.6 23.4h-27.2zM1689.0 3267.0l13.6 23.4h-27.2zM1691.4 3265.8l13.6 23.4h-27.2zM1693.2 3264.1l13.6 23.4h-27.2zM1694.9 3262.5l13.6 23.4h-27.2zM1696.7 3260.9l13.6 23.4h-27.2zM1698.5 3259.2l13.6 23.4h-27.2zM1700.2 3257.6l13.6 23.4h-27.2zM1701.9 3255.9l13.6 23.4h-27.2zM1703.7 3254.3l13.6 23.4h-27.2zM1705.4 3252.6l13.6 23.4h-27.2zM1707.1 3250.9l13.6 23.4h-27.2zM1708.8 3249.2l13.6 23.4h-27.2zM1710.5 3247.4l13.6 23.4h-27.2zM1712.2 3245.7l13.6 23.4h-27.2zM1713.8 3244.0l13.6 23.4h-27.2zM1715.5 3242.2l13.6 23.4h-27.2zM1717.1 3240.5l13.6 23.4h-27.2zM1718.7 3238.7l13.6 23.4h-27.2zM1720.3 3236.9l13.6 23.4h-27.2zM1721.9 3235.1l13.6 23.4h-27.2zM1723.5 3233.3l13.6 23.4h-27.2zM1725.1 3231.8l13.6 23.4h-27.2zM1726.9 3230.1l13.6 23.4h-27.2zM1728.7 3228.5l13.6 23.4h-27.2zM1730.4 3226.9l13.6 23.4h-27.2zM1732.2 3225.2l13.6 23.4h-27.2zM1733.9 3223.5l13.6 23.4h-27.2zM1735.6 3221.9l13.6 23.4h-27.2zM1737.3 3220.2l13.6 23.4h-27.2zM1739.0 3218.5l13.6 23.4h-27.2zM1740.7 3216.8l13.6 23.4h-27.2zM1742.4 3215.1l13.6 23.4h-27.2zM1744.1 3213.3l13.6 23.4h-27.2zM1745.7 3211.6l13.6 23.4h-27.2zM1747.4 3209.8l13.6 23.4h-27.2zM1749.0 3208.1l13.6 23.4h-27.2zM1750.7 3206.3l13.6 23.4h-27.2zM1752.3 3204.5l13.6 23.4h-27.2zM1753.9 3202.7l13.6 23.4h-27.2zM1755.5 3200.9l13.6 23.4h-27.2zM1757.0 3199.1l13.6 23.4h-27.2zM1758.6 3197.3l13.6 23.4h-27.2zM1760.2 3195.4l13.6 23.4h-27.2zM1761.7 3193.6l13.6 23.4h-27.2zM1763.3 3191.7l13.6 23.4h-27.2zM1764.8 3189.9l13.6 23.4h-27.2zM1766.3 3188.0l13.6 23.4h-27.2zM1767.8 3186.1l13.6 23.4h-27.2zM1769.3 3184.2l13.6 23.4h-27.2zM1770.8 3182.4l13.6 23.4h-27.2zM1772.2 3180.4l13.6 23.4h-27.2zM1773.7 3178.5l13.6 23.4h-27.2zM1775.2 3176.6l13.6 23.4h-27.2zM1776.6 3174.7l13.6 23.4h-27.2zM1778.0 3172.8l13.6 23.4h-27.2zM1779.4 3170.8l13.6 23.4h-27.2zM1780.8 3168.9l13.6 23.4h-27.2zM1782.2 3166.9l13.6 23.4h-27.2zM1783.6 3164.9l13.6 23.4h-27.2zM1785.0 3163.0l13.6 23.4h-27.2zM1786.4 3161.0l13.6 23.4h-27.2zM1787.7 3159.0l13.6 23.4h-27.2zM1789.1 3157.0l13.6 23.4h-27.2zM1790.4 3155.0l13.6 23.4h-27.2zM1791.7 3153.0l13.6 23.4h-27.2zM1793.1 3151.0l13.6 23.4h-27.2zM1794.4 3149.0l13.6 23.4h-27.2zM1795.7 3146.9l13.6 23.4h-27.2zM1796.9 3144.9l13.6 23.4h-27.2zM1798.2 3142.9l13.6 23.4h-27.2zM1799.5 3140.8l13.6 23.4h-27.2zM1800.8 3138.8l13.6 23.4h-27.2zM1802.0 3136.7l13.6 23.4h-27.2zM1803.2 3134.7l13.6 23.4h-27.2zM1804.5 3132.6l13.6 23.4h-27.2zM1805.7 3130.5l13.6 23.4h-27.2zM1806.9 3128.5l13.6 23.4h-27.2zM1808.1 3126.4l13.6 23.4h-27.2zM1809.3 3124.3l13.6 23.4h-27.2zM1810.5 3122.2l13.6 23.4h-27.2zM1811.7 3120.1l13.6 23.4h-27.2zM1812.9 3118.0l13.6 23.4h-27.2zM1814.0 3115.8l13.6 23.4h-27.2zM1816.5 3115.8l13.6 23.4h-27.2zM1819.0 3115.8l13.6 23.4h-27.2zM1821.5 3115.8l13.6 23.4h-27.2zM1824.0 3115.8l13.6 23.4h-27.2zM1826.5 3115.8l13.6 23.4h-27.2zM1829.0 3115.8l13.6 23.4h-27.2zM1831.5 3115.8l13.6 23.4h-27.2zM1922.0 2311.0l13.6 23.4h-27.2zM1919.4 2695.5l13.6 23.4h-27.2zM1916.5 2775.3l13.6 23.4h-27.2zM1910.0 2831.1l13.6 23.4h-27.2zM1904.6 2871.0l13.6 23.4h-27.2zM1900.0 2905.1l13.6 23.4h-27.2zM1894.0 2934.6l13.6 23.4h-27.2zM1889.9 2958.4l13.6 23.4h-27.2zM1884.4 2979.7l13.6 23.4h-27.2zM1879.5 3000.7l13.6 23.4h-27.2zM1874.0 3016.6l13.6 23.4h-27.2zM1868.6 3032.7l13.6 23.4h-27.2zM1863.7 3045.8l13.6 23.4h-27.2zM1858.5 3058.1l13.6 23.4h-27.2zM1854.9 3071.8l13.6 23.4h-27.2zM1850.3 3082.2l13.6 23.4h-27.2zM1845.4 3093.1l13.6 23.4h-27.2zM1839.9 3103.7l13.6 23.4h-27.2z"/>
<text x="36" y="1998.5" font-family='"Liberation Serif","DejaVu Serif",serif' font-size="86" fill="#000">(<tspan font-weight="700">a</tspan>)</text>
<text x="36" y="4001" font-family='"Liberation Serif","DejaVu Serif",serif' font-size="86" fill="#000">(<tspan font-weight="700">b</tspan>)</text>
</svg></body></html>
